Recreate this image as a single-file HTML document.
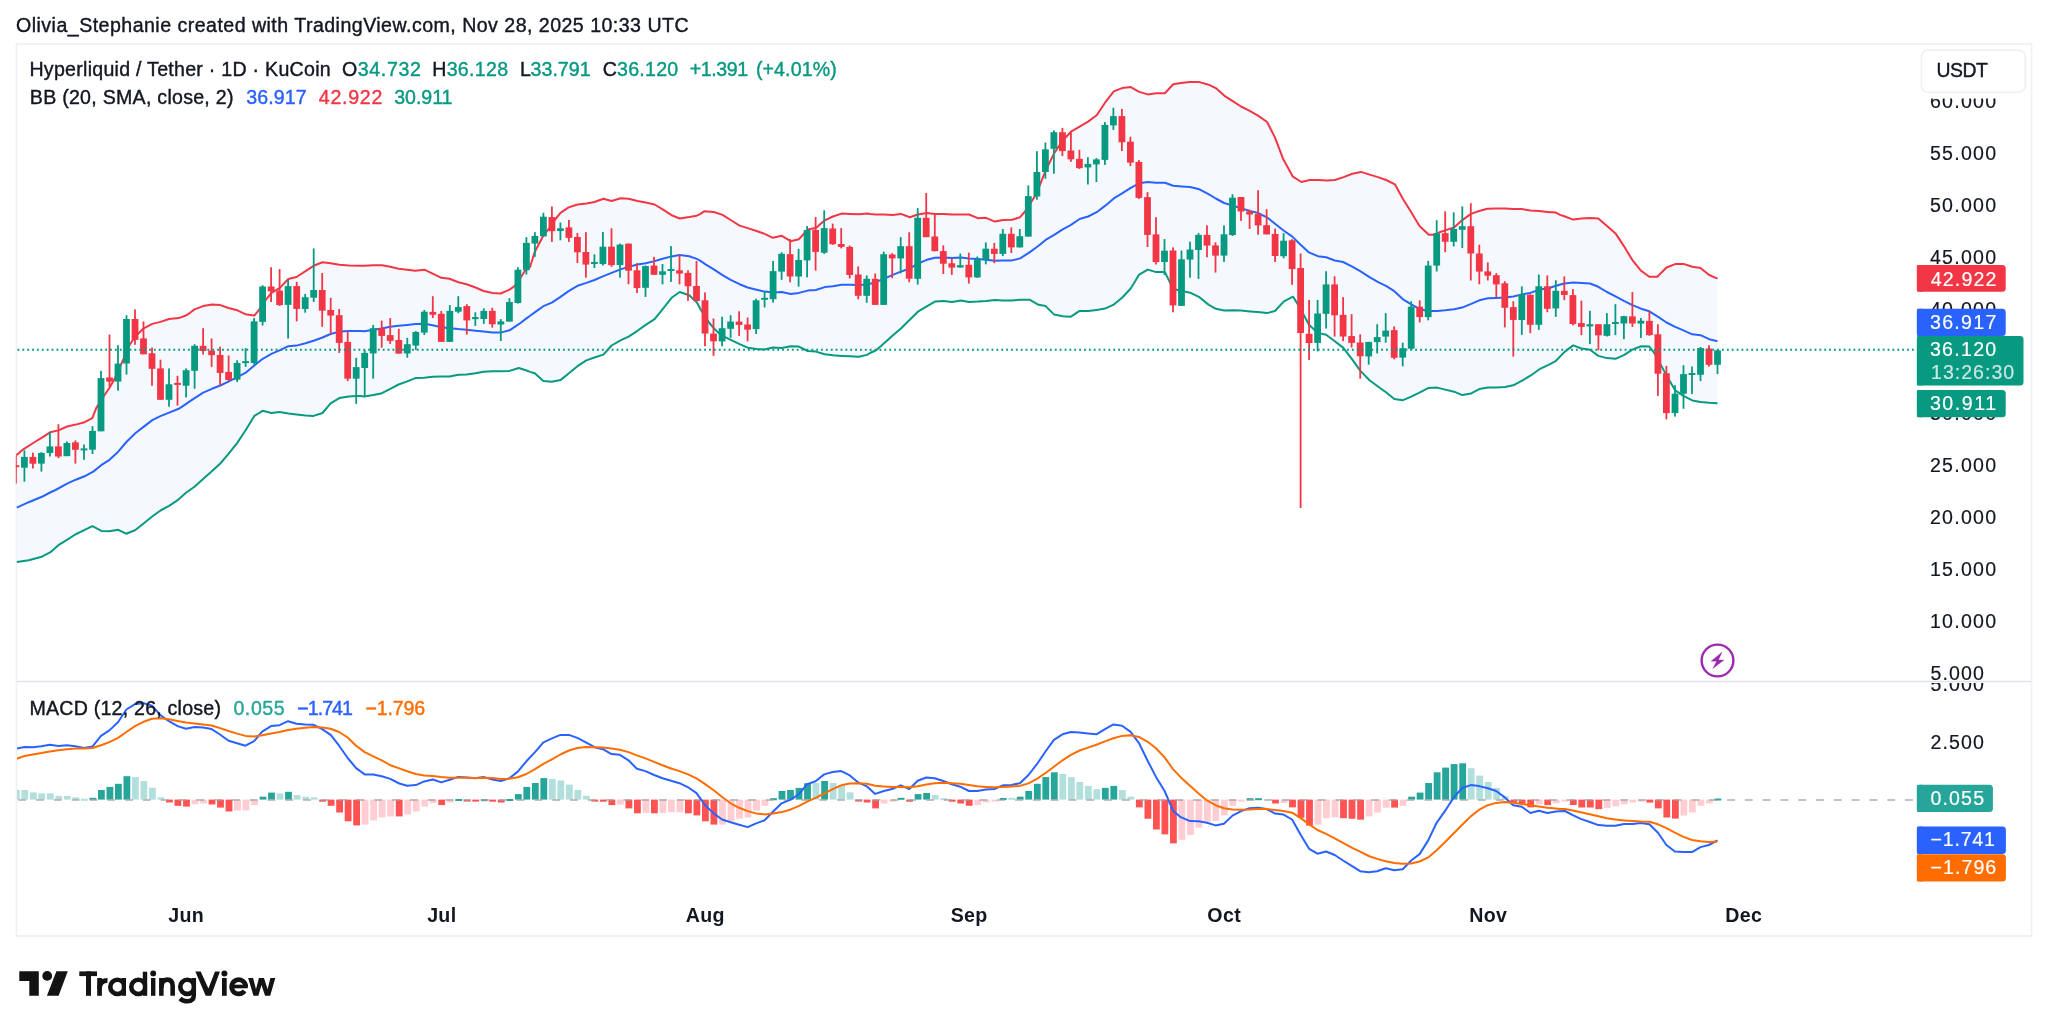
<!DOCTYPE html>
<html><head><meta charset="utf-8"><title>HYPEUSDT chart</title>
<style>html,body{margin:0;padding:0;background:#fff}body{width:2048px;height:1033px;position:relative;overflow:hidden;font-family:"Liberation Sans",sans-serif}</style>
</head><body>
<svg width="2048" height="1033" viewBox="0 0 2048 1033" style="position:absolute;left:0;top:0;will-change:transform;transform:translateZ(0)">
<defs><clipPath id="cm"><rect x="15.8" y="45" width="1900.2" height="636"/></clipPath><clipPath id="cd"><rect x="17" y="683" width="1899" height="210"/></clipPath><clipPath id="cs1"><rect x="1916" y="98" width="115" height="583"/></clipPath><clipPath id="cs2"><rect x="1916" y="683" width="115" height="210"/></clipPath><clipPath id="la"><rect x="100" y="970" width="26" height="40"/></clipPath><clipPath id="ld"><rect x="120" y="970" width="27.2" height="40"/></clipPath><clipPath id="lg"><rect x="170" y="970" width="26.05" height="40"/></clipPath></defs>
<rect x="16.5" y="44" width="2015" height="892" fill="#fff" stroke="#f0f1f3" stroke-width="1.8"/>
<line x1="17" y1="681.5" x2="2031" y2="681.5" stroke="#e0e3eb" stroke-width="1.6"/>
<g clip-path="url(#cm)">
<polygon points="16.4,455.2 23.6,449.1 33.2,443.0 41.9,437.7 50.1,432.3 58.4,430.4 67.1,426.5 75.8,424.6 84.5,422.2 92.3,418.2 96.2,408.1 101.2,400.4 104.9,394.5 109.5,387.8 114.5,379.1 122.3,361.6 130.0,344.2 135.3,336.5 143.2,328.7 152.3,323.9 160.4,321.9 169.1,319.0 178.7,318.1 186.5,315.2 190.1,312.8 194.5,309.4 203.2,306.1 211.9,304.5 220.3,305.1 228.4,308.0 237.3,310.3 245.4,314.2 254.3,315.6 259.4,309.4 265.2,300.7 271.4,292.9 279.5,288.1 288.4,279.0 296.6,277.0 305.5,271.2 313.6,265.8 322.5,262.3 330.6,263.3 339.3,264.8 348.8,265.6 360.1,265.8 364.5,265.8 373.2,265.2 381.9,265.2 390.3,266.8 398.6,268.7 407.3,269.7 415.4,270.7 424.3,269.7 432.7,273.6 441.4,277.8 449.5,278.8 458.4,282.3 466.6,284.2 475.5,287.5 483.6,291.0 492.5,292.9 500.6,293.5 509.5,289.6 514.6,286.1 520.2,278.2 525.8,269.5 530.1,266.8 534.7,252.0 543.4,235.5 549.0,228.7 553.9,221.0 560.5,212.8 568.6,207.4 577.5,204.5 586.4,203.6 594.5,202.0 603.4,198.7 611.6,201.0 620.5,198.3 628.6,198.7 637.5,201.0 645.7,202.6 654.6,204.5 662.7,209.4 671.6,215.2 679.7,218.5 689.2,217.1 696.8,215.7 700.1,214.2 704.5,211.2 713.8,212.0 722.5,214.9 730.7,220.0 739.6,225.6 747.7,228.1 756.6,231.0 764.7,233.9 772.9,237.8 781.8,235.8 790.7,241.2 798.8,239.3 807.7,229.6 815.8,228.1 824.8,220.3 832.9,216.5 841.6,213.6 849.9,213.9 859.4,214.2 867.0,213.4 870.1,214.1 875.7,214.5 883.8,214.5 892.7,215.1 900.9,213.9 909.8,217.2 917.9,214.5 926.8,212.9 934.9,213.9 943.8,213.9 952.0,214.5 960.9,214.5 969.0,214.5 977.9,218.2 986.0,217.8 994.9,221.6 1003.1,220.1 1012.0,219.7 1020.1,217.2 1024.6,212.0 1029.5,204.8 1036.4,193.8 1045.6,170.7 1054.2,153.1 1062.7,140.5 1071.0,131.7 1079.6,126.6 1088.1,121.6 1096.7,115.3 1105.0,102.7 1113.8,91.4 1122.1,88.1 1130.7,87.1 1139.2,91.9 1147.8,94.4 1156.1,93.2 1164.9,93.2 1173.2,84.3 1180.9,83.1 1189.9,81.9 1198.6,81.9 1208.6,84.7 1215.8,88.1 1224.5,95.8 1232.7,101.2 1241.0,106.5 1249.7,110.9 1258.0,115.6 1267.1,122.0 1274.9,137.4 1283.2,159.1 1292.9,176.7 1301.4,182.0 1309.7,180.0 1318.4,180.0 1326.6,180.4 1334.9,180.0 1343.6,177.1 1352.3,173.8 1361.0,171.9 1369.7,174.6 1377.9,177.1 1386.2,180.0 1394.9,184.3 1402.7,198.4 1411.4,212.6 1419.5,226.1 1428.8,234.8 1433.6,234.8 1439.4,232.3 1445.2,230.4 1454.0,227.5 1462.3,220.1 1471.0,213.9 1479.1,211.0 1487.3,208.7 1495.6,208.5 1505.3,208.5 1513.0,209.1 1521.7,209.1 1530.4,210.6 1539.1,211.1 1547.6,211.9 1555.8,212.6 1560.1,214.9 1564.3,216.3 1573.2,219.6 1581.4,218.5 1590.1,218.0 1598.3,218.5 1607.0,226.1 1615.5,233.4 1623.9,246.1 1632.4,260.1 1641.1,270.8 1649.3,276.8 1657.3,276.8 1666.5,267.5 1675.2,264.1 1683.4,263.9 1692.3,266.8 1700.5,267.9 1709.2,275.0 1717.5,278.6 1717.5,403.3 1709.2,402.8 1700.5,401.9 1692.3,400.4 1683.4,395.9 1675.2,390.4 1668.0,378.1 1661.3,365.9 1654.7,353.6 1649.3,346.5 1641.1,346.3 1632.4,349.6 1623.9,355.2 1615.5,358.8 1607.0,358.1 1598.3,355.9 1590.1,349.8 1581.4,348.5 1573.2,345.4 1564.3,352.1 1556.0,360.8 1548.6,364.8 1539.5,369.2 1530.4,375.7 1522.1,380.6 1513.3,385.3 1505.0,387.0 1496.3,387.4 1488.0,387.6 1479.3,389.1 1471.2,393.4 1462.2,395.1 1454.1,391.7 1445.2,389.6 1437.1,387.6 1428.1,388.1 1420.0,392.3 1411.3,396.6 1403.0,400.2 1394.3,399.1 1386.0,392.3 1378.6,387.0 1369.5,380.2 1360.2,370.6 1351.8,358.9 1343.1,347.6 1334.8,341.2 1326.1,334.8 1317.8,332.9 1309.0,324.8 1304.4,316.3 1298.0,304.6 1293.1,296.7 1283.9,301.4 1275.0,311.0 1266.9,313.1 1257.9,312.0 1249.8,311.4 1241.1,310.6 1232.8,310.3 1224.1,310.6 1215.8,308.8 1208.5,304.6 1199.4,297.2 1190.1,292.7 1181.8,291.0 1173.2,289.0 1164.9,272.1 1156.1,272.1 1147.8,269.6 1139.2,274.6 1130.7,288.5 1122.1,297.8 1113.8,304.6 1105.0,308.6 1096.7,309.9 1088.1,311.1 1079.6,310.9 1071.0,316.7 1062.7,316.2 1054.2,314.6 1045.6,306.1 1038.6,304.8 1029.5,299.7 1020.1,299.7 1012.0,300.4 1003.1,300.6 994.9,300.0 986.0,301.0 977.9,301.6 969.0,302.0 960.9,300.4 952.0,302.0 943.8,301.0 934.9,301.6 926.8,306.4 917.9,311.7 909.8,319.8 900.9,328.5 892.7,335.5 883.8,343.6 876.5,350.0 870.1,353.0 867.0,354.9 858.8,356.8 849.9,356.3 841.6,355.9 832.9,355.3 824.8,354.3 815.8,351.6 807.7,351.0 798.8,346.6 790.7,346.2 781.8,348.1 772.9,347.5 764.7,349.5 756.6,349.1 747.7,347.7 739.6,344.2 730.7,339.8 722.5,335.9 719.0,333.2 713.8,328.2 709.4,323.0 705.5,317.1 700.8,309.7 696.8,302.2 689.2,295.2 679.7,292.0 671.6,297.8 662.7,309.1 654.6,319.1 645.7,324.9 637.5,330.8 628.6,336.6 620.5,340.4 611.6,345.5 603.4,354.6 594.5,357.5 586.4,360.4 577.5,366.2 568.6,373.5 560.5,380.1 551.8,381.7 543.4,381.1 534.7,373.3 530.1,371.9 526.5,370.5 518.8,368.0 509.5,370.9 500.6,371.3 492.5,371.3 483.6,371.7 475.5,373.3 466.6,374.6 458.4,374.8 449.5,376.6 441.4,376.6 432.7,376.8 424.3,377.7 415.4,378.1 407.3,381.4 398.6,384.5 390.3,388.8 381.9,393.2 373.4,395.0 364.5,396.5 360.1,396.1 356.4,396.1 348.8,396.5 339.3,398.1 330.6,403.3 322.5,413.0 313.6,415.9 305.5,415.5 296.6,414.5 288.4,413.5 279.5,412.0 271.4,413.0 262.6,410.8 254.3,415.9 245.6,430.3 237.1,443.1 228.5,453.9 220.3,463.5 211.3,471.8 203.1,478.9 194.5,486.8 186.3,492.5 177.3,500.4 169.1,505.8 160.5,510.5 152.2,516.5 143.3,523.7 135.0,530.2 126.1,533.7 118.2,529.8 109.2,531.2 101.4,530.9 92.4,526.2 84.2,530.2 75.2,534.5 67.0,539.8 58.4,545.2 50.1,552.4 41.9,556.7 28.7,560.2 16.8,562.0" fill="#f5f9fe"/>
<polyline points="16.8,507.6 28.7,502.2 41.9,496.8 50.1,492.5 55.5,490.0 67.1,483.6 75.8,479.7 84.5,476.3 93.3,471.6 101.2,465.2 109.5,459.8 118.2,451.7 126.4,442.0 135.3,433.3 143.2,427.1 152.3,420.1 160.4,416.2 169.1,412.6 178.7,408.8 186.2,403.8 190.8,400.7 203.2,392.6 211.9,388.8 220.3,385.5 228.4,381.6 237.3,377.1 245.4,372.9 254.3,365.5 262.7,358.8 271.4,353.9 279.5,350.4 288.4,346.2 296.6,345.6 305.5,343.3 313.6,340.7 322.5,337.5 330.6,334.0 339.3,331.6 348.8,331.1 360.1,331.1 364.5,331.3 373.4,329.7 381.6,328.4 390.3,326.8 398.6,325.8 407.3,324.9 415.4,323.9 424.3,323.7 432.7,325.3 441.4,327.2 449.5,328.2 458.4,329.1 466.6,329.7 475.5,330.7 483.6,331.6 492.5,332.6 500.6,332.6 509.5,330.3 518.8,324.2 526.5,318.4 530.1,315.8 534.7,312.4 543.4,306.2 551.8,302.7 560.5,296.9 568.6,291.1 577.5,285.8 586.4,282.9 594.5,280.0 603.4,276.2 611.6,272.9 620.5,269.4 628.6,266.9 637.5,264.5 645.7,263.2 654.6,261.1 662.7,258.7 671.6,256.4 679.7,254.9 689.2,256.2 696.8,258.9 700.1,260.7 705.5,264.3 713.8,269.3 722.5,275.1 730.7,279.8 739.6,284.2 747.7,287.5 756.6,289.7 764.7,291.6 773.6,292.6 781.8,292.0 790.7,293.9 798.8,292.9 807.7,290.6 815.8,290.0 824.8,287.1 832.9,286.2 841.6,284.8 849.9,284.8 859.4,284.9 867.0,284.6 875.7,282.2 883.8,278.8 892.7,274.9 900.9,271.6 909.8,268.5 917.9,263.6 926.8,259.8 934.9,257.8 943.8,257.5 952.0,258.0 960.9,257.5 969.0,258.4 977.9,259.0 986.0,259.8 994.9,260.7 1003.1,260.4 1012.0,260.4 1020.1,258.4 1029.5,252.4 1038.6,245.8 1045.6,239.9 1054.2,234.9 1062.7,229.3 1071.0,224.8 1079.6,219.0 1088.1,216.5 1096.7,212.2 1105.0,205.9 1113.8,198.4 1122.1,193.3 1130.7,187.8 1139.2,183.3 1147.8,182.0 1156.1,182.8 1164.9,182.8 1173.2,185.8 1181.8,186.5 1190.1,187.0 1199.4,189.3 1208.5,194.2 1215.8,198.5 1224.1,203.0 1232.8,205.6 1241.1,208.3 1249.8,210.9 1257.9,213.0 1266.9,217.3 1275.0,223.7 1283.9,230.7 1292.0,236.4 1300.9,245.0 1309.0,252.4 1317.8,256.2 1326.1,257.3 1334.8,260.5 1343.1,262.0 1351.8,266.3 1360.2,271.2 1369.5,277.1 1378.6,282.4 1386.0,285.8 1394.3,291.2 1403.0,299.3 1411.3,304.4 1420.0,309.3 1428.1,311.0 1437.1,311.0 1445.2,310.3 1454.1,309.3 1462.2,307.6 1471.2,303.9 1479.3,300.3 1488.0,298.2 1496.3,298.0 1505.0,297.6 1513.3,296.5 1522.1,294.4 1530.4,292.9 1539.5,289.6 1548.6,288.2 1556.0,285.7 1564.3,283.5 1573.2,282.4 1581.4,283.0 1590.1,283.5 1598.3,286.8 1607.0,292.0 1615.5,296.4 1623.9,300.9 1632.4,305.1 1641.1,308.7 1649.3,311.3 1658.2,316.9 1666.5,322.5 1675.2,326.9 1683.4,330.3 1692.3,334.3 1700.5,335.2 1709.2,339.2 1717.5,341.2" fill="none" stroke="#2962ff" stroke-width="2" stroke-linejoin="round"/>
<polyline points="16.4,455.2 23.6,449.1 33.2,443.0 41.9,437.7 50.1,432.3 58.4,430.4 67.1,426.5 75.8,424.6 84.5,422.2 92.3,418.2 96.2,408.1 101.2,400.4 104.9,394.5 109.5,387.8 114.5,379.1 122.3,361.6 130.0,344.2 135.3,336.5 143.2,328.7 152.3,323.9 160.4,321.9 169.1,319.0 178.7,318.1 186.5,315.2 190.1,312.8 194.5,309.4 203.2,306.1 211.9,304.5 220.3,305.1 228.4,308.0 237.3,310.3 245.4,314.2 254.3,315.6 259.4,309.4 265.2,300.7 271.4,292.9 279.5,288.1 288.4,279.0 296.6,277.0 305.5,271.2 313.6,265.8 322.5,262.3 330.6,263.3 339.3,264.8 348.8,265.6 360.1,265.8 364.5,265.8 373.2,265.2 381.9,265.2 390.3,266.8 398.6,268.7 407.3,269.7 415.4,270.7 424.3,269.7 432.7,273.6 441.4,277.8 449.5,278.8 458.4,282.3 466.6,284.2 475.5,287.5 483.6,291.0 492.5,292.9 500.6,293.5 509.5,289.6 514.6,286.1 520.2,278.2 525.8,269.5 530.1,266.8 534.7,252.0 543.4,235.5 549.0,228.7 553.9,221.0 560.5,212.8 568.6,207.4 577.5,204.5 586.4,203.6 594.5,202.0 603.4,198.7 611.6,201.0 620.5,198.3 628.6,198.7 637.5,201.0 645.7,202.6 654.6,204.5 662.7,209.4 671.6,215.2 679.7,218.5 689.2,217.1 696.8,215.7 700.1,214.2 704.5,211.2 713.8,212.0 722.5,214.9 730.7,220.0 739.6,225.6 747.7,228.1 756.6,231.0 764.7,233.9 772.9,237.8 781.8,235.8 790.7,241.2 798.8,239.3 807.7,229.6 815.8,228.1 824.8,220.3 832.9,216.5 841.6,213.6 849.9,213.9 859.4,214.2 867.0,213.4 870.1,214.1 875.7,214.5 883.8,214.5 892.7,215.1 900.9,213.9 909.8,217.2 917.9,214.5 926.8,212.9 934.9,213.9 943.8,213.9 952.0,214.5 960.9,214.5 969.0,214.5 977.9,218.2 986.0,217.8 994.9,221.6 1003.1,220.1 1012.0,219.7 1020.1,217.2 1024.6,212.0 1029.5,204.8 1036.4,193.8 1045.6,170.7 1054.2,153.1 1062.7,140.5 1071.0,131.7 1079.6,126.6 1088.1,121.6 1096.7,115.3 1105.0,102.7 1113.8,91.4 1122.1,88.1 1130.7,87.1 1139.2,91.9 1147.8,94.4 1156.1,93.2 1164.9,93.2 1173.2,84.3 1180.9,83.1 1189.9,81.9 1198.6,81.9 1208.6,84.7 1215.8,88.1 1224.5,95.8 1232.7,101.2 1241.0,106.5 1249.7,110.9 1258.0,115.6 1267.1,122.0 1274.9,137.4 1283.2,159.1 1292.9,176.7 1301.4,182.0 1309.7,180.0 1318.4,180.0 1326.6,180.4 1334.9,180.0 1343.6,177.1 1352.3,173.8 1361.0,171.9 1369.7,174.6 1377.9,177.1 1386.2,180.0 1394.9,184.3 1402.7,198.4 1411.4,212.6 1419.5,226.1 1428.8,234.8 1433.6,234.8 1439.4,232.3 1445.2,230.4 1454.0,227.5 1462.3,220.1 1471.0,213.9 1479.1,211.0 1487.3,208.7 1495.6,208.5 1505.3,208.5 1513.0,209.1 1521.7,209.1 1530.4,210.6 1539.1,211.1 1547.6,211.9 1555.8,212.6 1560.1,214.9 1564.3,216.3 1573.2,219.6 1581.4,218.5 1590.1,218.0 1598.3,218.5 1607.0,226.1 1615.5,233.4 1623.9,246.1 1632.4,260.1 1641.1,270.8 1649.3,276.8 1657.3,276.8 1666.5,267.5 1675.2,264.1 1683.4,263.9 1692.3,266.8 1700.5,267.9 1709.2,275.0 1717.5,278.6" fill="none" stroke="#f23645" stroke-width="2" stroke-linejoin="round"/>
<polyline points="16.8,562.0 28.7,560.2 41.9,556.7 50.1,552.4 58.4,545.2 67.0,539.8 75.2,534.5 84.2,530.2 92.4,526.2 101.4,530.9 109.2,531.2 118.2,529.8 126.1,533.7 135.0,530.2 143.3,523.7 152.2,516.5 160.5,510.5 169.1,505.8 177.3,500.4 186.3,492.5 194.5,486.8 203.1,478.9 211.3,471.8 220.3,463.5 228.5,453.9 237.1,443.1 245.6,430.3 254.3,415.9 262.6,410.8 271.4,413.0 279.5,412.0 288.4,413.5 296.6,414.5 305.5,415.5 313.6,415.9 322.5,413.0 330.6,403.3 339.3,398.1 348.8,396.5 356.4,396.1 360.1,396.1 364.5,396.5 373.4,395.0 381.9,393.2 390.3,388.8 398.6,384.5 407.3,381.4 415.4,378.1 424.3,377.7 432.7,376.8 441.4,376.6 449.5,376.6 458.4,374.8 466.6,374.6 475.5,373.3 483.6,371.7 492.5,371.3 500.6,371.3 509.5,370.9 518.8,368.0 526.5,370.5 530.1,371.9 534.7,373.3 543.4,381.1 551.8,381.7 560.5,380.1 568.6,373.5 577.5,366.2 586.4,360.4 594.5,357.5 603.4,354.6 611.6,345.5 620.5,340.4 628.6,336.6 637.5,330.8 645.7,324.9 654.6,319.1 662.7,309.1 671.6,297.8 679.7,292.0 689.2,295.2 696.8,302.2 700.8,309.7 705.5,317.1 709.4,323.0 713.8,328.2 719.0,333.2 722.5,335.9 730.7,339.8 739.6,344.2 747.7,347.7 756.6,349.1 764.7,349.5 772.9,347.5 781.8,348.1 790.7,346.2 798.8,346.6 807.7,351.0 815.8,351.6 824.8,354.3 832.9,355.3 841.6,355.9 849.9,356.3 858.8,356.8 867.0,354.9 870.1,353.0 876.5,350.0 883.8,343.6 892.7,335.5 900.9,328.5 909.8,319.8 917.9,311.7 926.8,306.4 934.9,301.6 943.8,301.0 952.0,302.0 960.9,300.4 969.0,302.0 977.9,301.6 986.0,301.0 994.9,300.0 1003.1,300.6 1012.0,300.4 1020.1,299.7 1029.5,299.7 1038.6,304.8 1045.6,306.1 1054.2,314.6 1062.7,316.2 1071.0,316.7 1079.6,310.9 1088.1,311.1 1096.7,309.9 1105.0,308.6 1113.8,304.6 1122.1,297.8 1130.7,288.5 1139.2,274.6 1147.8,269.6 1156.1,272.1 1164.9,272.1 1173.2,289.0 1181.8,291.0 1190.1,292.7 1199.4,297.2 1208.5,304.6 1215.8,308.8 1224.1,310.6 1232.8,310.3 1241.1,310.6 1249.8,311.4 1257.9,312.0 1266.9,313.1 1275.0,311.0 1283.9,301.4 1293.1,296.7 1298.0,304.6 1304.4,316.3 1309.0,324.8 1317.8,332.9 1326.1,334.8 1334.8,341.2 1343.1,347.6 1351.8,358.9 1360.2,370.6 1369.5,380.2 1378.6,387.0 1386.0,392.3 1394.3,399.1 1403.0,400.2 1411.3,396.6 1420.0,392.3 1428.1,388.1 1437.1,387.6 1445.2,389.6 1454.1,391.7 1462.2,395.1 1471.2,393.4 1479.3,389.1 1488.0,387.6 1496.3,387.4 1505.0,387.0 1513.3,385.3 1522.1,380.6 1530.4,375.7 1539.5,369.2 1548.6,364.8 1556.0,360.8 1564.3,352.1 1573.2,345.4 1581.4,348.5 1590.1,349.8 1598.3,355.9 1607.0,358.1 1615.5,358.8 1623.9,355.2 1632.4,349.6 1641.1,346.3 1649.3,346.5 1654.7,353.6 1661.3,365.9 1668.0,378.1 1675.2,390.4 1683.4,395.9 1692.3,400.4 1700.5,401.9 1709.2,402.8 1717.5,403.3" fill="none" stroke="#089981" stroke-width="2" stroke-linejoin="round"/>
<rect x="15.0" y="455.5" width="1.8" height="28.1" fill="#f23645"/>
<rect x="12.5" y="465.2" width="6.8" height="2.0" fill="#f23645"/>
<rect x="23.5" y="450.3" width="1.8" height="31.4" fill="#089981"/>
<rect x="21.0" y="456.9" width="6.8" height="10.8" fill="#089981"/>
<rect x="32.0" y="452.6" width="1.8" height="15.9" fill="#f23645"/>
<rect x="29.5" y="456.9" width="6.8" height="6.8" fill="#f23645"/>
<rect x="40.5" y="452.2" width="1.8" height="19.4" fill="#089981"/>
<rect x="38.0" y="453.0" width="6.8" height="10.6" fill="#089981"/>
<rect x="49.0" y="431.9" width="1.8" height="24.6" fill="#089981"/>
<rect x="46.5" y="446.4" width="6.8" height="6.6" fill="#089981"/>
<rect x="57.5" y="424.2" width="1.8" height="33.9" fill="#f23645"/>
<rect x="55.0" y="446.4" width="6.8" height="10.1" fill="#f23645"/>
<rect x="66.0" y="441.4" width="1.8" height="14.7" fill="#089981"/>
<rect x="63.5" y="443.0" width="6.8" height="13.2" fill="#089981"/>
<rect x="74.5" y="440.4" width="1.8" height="23.2" fill="#f23645"/>
<rect x="72.0" y="442.4" width="6.8" height="7.4" fill="#f23645"/>
<rect x="83.1" y="444.5" width="1.8" height="15.3" fill="#089981"/>
<rect x="80.6" y="448.4" width="6.8" height="2.0" fill="#089981"/>
<rect x="91.6" y="426.1" width="1.8" height="27.9" fill="#089981"/>
<rect x="89.1" y="430.9" width="6.8" height="18.8" fill="#089981"/>
<rect x="100.1" y="370.9" width="1.8" height="60.4" fill="#089981"/>
<rect x="97.6" y="378.1" width="6.8" height="53.2" fill="#089981"/>
<rect x="108.6" y="334.5" width="1.8" height="52.3" fill="#f23645"/>
<rect x="106.1" y="377.5" width="6.8" height="4.1" fill="#f23645"/>
<rect x="117.1" y="345.2" width="1.8" height="45.5" fill="#089981"/>
<rect x="114.6" y="363.6" width="6.8" height="18.0" fill="#089981"/>
<rect x="125.6" y="315.2" width="1.8" height="59.4" fill="#089981"/>
<rect x="123.1" y="319.0" width="6.8" height="44.5" fill="#089981"/>
<rect x="134.1" y="309.4" width="1.8" height="35.4" fill="#f23645"/>
<rect x="131.6" y="319.0" width="6.8" height="20.9" fill="#f23645"/>
<rect x="142.6" y="321.4" width="1.8" height="32.9" fill="#f23645"/>
<rect x="140.1" y="338.4" width="6.8" height="15.9" fill="#f23645"/>
<rect x="151.1" y="347.5" width="1.8" height="38.3" fill="#f23645"/>
<rect x="148.6" y="353.3" width="6.8" height="15.5" fill="#f23645"/>
<rect x="159.6" y="359.7" width="1.8" height="40.1" fill="#f23645"/>
<rect x="157.1" y="368.4" width="6.8" height="31.4" fill="#f23645"/>
<rect x="168.1" y="368.4" width="1.8" height="38.3" fill="#089981"/>
<rect x="165.6" y="384.3" width="6.8" height="15.5" fill="#089981"/>
<rect x="176.6" y="375.8" width="1.8" height="29.8" fill="#f23645"/>
<rect x="174.1" y="382.9" width="6.8" height="2.0" fill="#f23645"/>
<rect x="185.2" y="368.4" width="1.8" height="29.0" fill="#089981"/>
<rect x="182.7" y="370.2" width="6.8" height="15.5" fill="#089981"/>
<rect x="193.7" y="344.2" width="1.8" height="44.5" fill="#089981"/>
<rect x="191.2" y="345.8" width="6.8" height="25.0" fill="#089981"/>
<rect x="202.2" y="328.2" width="1.8" height="26.3" fill="#f23645"/>
<rect x="199.7" y="345.8" width="6.8" height="5.2" fill="#f23645"/>
<rect x="210.7" y="338.4" width="1.8" height="28.5" fill="#f23645"/>
<rect x="208.2" y="350.6" width="6.8" height="4.6" fill="#f23645"/>
<rect x="219.2" y="346.7" width="1.8" height="39.1" fill="#f23645"/>
<rect x="216.7" y="354.9" width="6.8" height="18.0" fill="#f23645"/>
<rect x="227.7" y="355.5" width="1.8" height="25.6" fill="#f23645"/>
<rect x="225.2" y="371.9" width="6.8" height="8.1" fill="#f23645"/>
<rect x="236.2" y="360.3" width="1.8" height="21.7" fill="#089981"/>
<rect x="233.7" y="363.0" width="6.8" height="16.7" fill="#089981"/>
<rect x="244.7" y="348.1" width="1.8" height="18.8" fill="#089981"/>
<rect x="242.2" y="361.1" width="6.8" height="2.0" fill="#089981"/>
<rect x="253.2" y="318.1" width="1.8" height="46.5" fill="#089981"/>
<rect x="250.7" y="321.4" width="6.8" height="41.6" fill="#089981"/>
<rect x="261.7" y="285.2" width="1.8" height="40.3" fill="#089981"/>
<rect x="259.2" y="286.5" width="6.8" height="35.4" fill="#089981"/>
<rect x="270.2" y="267.2" width="1.8" height="34.8" fill="#f23645"/>
<rect x="267.7" y="286.5" width="6.8" height="4.8" fill="#f23645"/>
<rect x="278.7" y="269.1" width="1.8" height="36.8" fill="#f23645"/>
<rect x="276.2" y="290.6" width="6.8" height="14.5" fill="#f23645"/>
<rect x="287.2" y="280.0" width="1.8" height="58.5" fill="#089981"/>
<rect x="284.7" y="286.1" width="6.8" height="18.8" fill="#089981"/>
<rect x="295.8" y="281.9" width="1.8" height="39.5" fill="#f23645"/>
<rect x="293.3" y="286.1" width="6.8" height="22.8" fill="#f23645"/>
<rect x="304.3" y="293.9" width="1.8" height="18.8" fill="#089981"/>
<rect x="301.8" y="297.2" width="6.8" height="11.8" fill="#089981"/>
<rect x="312.8" y="248.4" width="1.8" height="53.6" fill="#089981"/>
<rect x="310.3" y="290.0" width="6.8" height="7.7" fill="#089981"/>
<rect x="321.3" y="273.0" width="1.8" height="53.8" fill="#f23645"/>
<rect x="318.8" y="290.0" width="6.8" height="20.7" fill="#f23645"/>
<rect x="329.8" y="297.8" width="1.8" height="36.2" fill="#f23645"/>
<rect x="327.3" y="310.0" width="6.8" height="5.6" fill="#f23645"/>
<rect x="338.3" y="309.0" width="1.8" height="43.9" fill="#f23645"/>
<rect x="335.8" y="315.2" width="6.8" height="27.7" fill="#f23645"/>
<rect x="346.8" y="331.3" width="1.8" height="49.8" fill="#f23645"/>
<rect x="344.3" y="341.9" width="6.8" height="36.8" fill="#f23645"/>
<rect x="355.3" y="357.8" width="1.8" height="46.1" fill="#089981"/>
<rect x="352.8" y="367.1" width="6.8" height="11.6" fill="#089981"/>
<rect x="363.8" y="350.0" width="1.8" height="46.1" fill="#089981"/>
<rect x="361.3" y="352.9" width="6.8" height="15.1" fill="#089981"/>
<rect x="372.3" y="324.9" width="1.8" height="53.8" fill="#089981"/>
<rect x="369.8" y="328.2" width="6.8" height="25.2" fill="#089981"/>
<rect x="380.8" y="320.6" width="1.8" height="27.1" fill="#f23645"/>
<rect x="378.3" y="328.2" width="6.8" height="7.7" fill="#f23645"/>
<rect x="389.3" y="318.1" width="1.8" height="25.8" fill="#f23645"/>
<rect x="386.8" y="335.1" width="6.8" height="5.8" fill="#f23645"/>
<rect x="397.9" y="328.7" width="1.8" height="24.8" fill="#f23645"/>
<rect x="395.4" y="340.0" width="6.8" height="13.6" fill="#f23645"/>
<rect x="406.4" y="337.8" width="1.8" height="19.9" fill="#089981"/>
<rect x="403.9" y="344.2" width="6.8" height="9.3" fill="#089981"/>
<rect x="414.9" y="331.1" width="1.8" height="19.0" fill="#089981"/>
<rect x="412.4" y="332.0" width="6.8" height="13.6" fill="#089981"/>
<rect x="423.4" y="310.0" width="1.8" height="25.0" fill="#089981"/>
<rect x="420.9" y="311.7" width="6.8" height="20.9" fill="#089981"/>
<rect x="431.9" y="296.2" width="1.8" height="21.9" fill="#f23645"/>
<rect x="429.4" y="311.9" width="6.8" height="2.9" fill="#f23645"/>
<rect x="440.4" y="310.9" width="1.8" height="31.0" fill="#f23645"/>
<rect x="437.9" y="313.8" width="6.8" height="28.1" fill="#f23645"/>
<rect x="448.9" y="305.1" width="1.8" height="36.8" fill="#089981"/>
<rect x="446.4" y="310.9" width="6.8" height="31.0" fill="#089981"/>
<rect x="457.4" y="296.2" width="1.8" height="17.0" fill="#089981"/>
<rect x="454.9" y="307.1" width="6.8" height="4.6" fill="#089981"/>
<rect x="465.9" y="304.2" width="1.8" height="30.4" fill="#f23645"/>
<rect x="463.4" y="306.1" width="6.8" height="14.3" fill="#f23645"/>
<rect x="474.4" y="312.3" width="1.8" height="13.6" fill="#089981"/>
<rect x="471.9" y="317.1" width="6.8" height="2.0" fill="#089981"/>
<rect x="482.9" y="308.4" width="1.8" height="15.5" fill="#089981"/>
<rect x="480.4" y="310.9" width="6.8" height="8.1" fill="#089981"/>
<rect x="491.4" y="307.8" width="1.8" height="19.9" fill="#f23645"/>
<rect x="488.9" y="310.9" width="6.8" height="13.4" fill="#f23645"/>
<rect x="499.9" y="319.1" width="1.8" height="21.9" fill="#089981"/>
<rect x="497.4" y="321.4" width="6.8" height="3.1" fill="#089981"/>
<rect x="508.5" y="298.2" width="1.8" height="23.4" fill="#089981"/>
<rect x="506.0" y="302.0" width="6.8" height="19.6" fill="#089981"/>
<rect x="517.0" y="267.2" width="1.8" height="36.4" fill="#089981"/>
<rect x="514.5" y="269.7" width="6.8" height="33.3" fill="#089981"/>
<rect x="525.5" y="237.1" width="1.8" height="37.5" fill="#089981"/>
<rect x="523.0" y="242.8" width="6.8" height="27.4" fill="#089981"/>
<rect x="534.0" y="232.2" width="1.8" height="24.6" fill="#089981"/>
<rect x="531.5" y="235.9" width="6.8" height="7.7" fill="#089981"/>
<rect x="542.5" y="212.8" width="1.8" height="23.6" fill="#089981"/>
<rect x="540.0" y="216.7" width="6.8" height="19.7" fill="#089981"/>
<rect x="551.0" y="206.5" width="1.8" height="35.4" fill="#f23645"/>
<rect x="548.5" y="217.1" width="6.8" height="14.1" fill="#f23645"/>
<rect x="559.5" y="222.5" width="1.8" height="17.8" fill="#089981"/>
<rect x="557.0" y="228.3" width="6.8" height="2.7" fill="#089981"/>
<rect x="568.0" y="220.0" width="1.8" height="21.9" fill="#f23645"/>
<rect x="565.5" y="227.4" width="6.8" height="10.5" fill="#f23645"/>
<rect x="576.5" y="233.0" width="1.8" height="30.0" fill="#f23645"/>
<rect x="574.0" y="237.0" width="6.8" height="15.3" fill="#f23645"/>
<rect x="585.0" y="232.2" width="1.8" height="45.5" fill="#f23645"/>
<rect x="582.5" y="252.0" width="6.8" height="12.6" fill="#f23645"/>
<rect x="593.5" y="254.3" width="1.8" height="13.7" fill="#089981"/>
<rect x="591.0" y="262.0" width="6.8" height="2.0" fill="#089981"/>
<rect x="602.0" y="232.0" width="1.8" height="33.5" fill="#089981"/>
<rect x="599.5" y="246.7" width="6.8" height="17.4" fill="#089981"/>
<rect x="610.6" y="228.3" width="1.8" height="38.5" fill="#f23645"/>
<rect x="608.1" y="246.7" width="6.8" height="18.4" fill="#f23645"/>
<rect x="619.1" y="243.6" width="1.8" height="34.1" fill="#089981"/>
<rect x="616.6" y="244.6" width="6.8" height="20.5" fill="#089981"/>
<rect x="627.6" y="243.6" width="1.8" height="40.7" fill="#f23645"/>
<rect x="625.1" y="243.6" width="6.8" height="27.1" fill="#f23645"/>
<rect x="636.1" y="263.2" width="1.8" height="29.8" fill="#f23645"/>
<rect x="633.6" y="270.3" width="6.8" height="17.8" fill="#f23645"/>
<rect x="644.6" y="265.5" width="1.8" height="31.4" fill="#089981"/>
<rect x="642.1" y="266.1" width="6.8" height="21.7" fill="#089981"/>
<rect x="653.1" y="256.8" width="1.8" height="18.0" fill="#f23645"/>
<rect x="650.6" y="265.5" width="6.8" height="9.3" fill="#f23645"/>
<rect x="661.6" y="264.0" width="1.8" height="20.3" fill="#089981"/>
<rect x="659.1" y="271.3" width="6.8" height="3.5" fill="#089981"/>
<rect x="670.1" y="246.1" width="1.8" height="35.8" fill="#089981"/>
<rect x="667.6" y="269.0" width="6.8" height="2.0" fill="#089981"/>
<rect x="678.6" y="254.5" width="1.8" height="29.8" fill="#f23645"/>
<rect x="676.1" y="270.3" width="6.8" height="3.3" fill="#f23645"/>
<rect x="687.1" y="270.3" width="1.8" height="30.6" fill="#f23645"/>
<rect x="684.6" y="272.9" width="6.8" height="13.4" fill="#f23645"/>
<rect x="695.6" y="261.0" width="1.8" height="40.0" fill="#f23645"/>
<rect x="693.1" y="286.0" width="6.8" height="15.0" fill="#f23645"/>
<rect x="704.1" y="292.4" width="1.8" height="53.8" fill="#f23645"/>
<rect x="701.6" y="300.3" width="6.8" height="33.3" fill="#f23645"/>
<rect x="712.6" y="318.5" width="1.8" height="37.4" fill="#f23645"/>
<rect x="710.1" y="333.6" width="6.8" height="7.7" fill="#f23645"/>
<rect x="721.2" y="316.8" width="1.8" height="29.4" fill="#089981"/>
<rect x="718.7" y="328.2" width="6.8" height="13.2" fill="#089981"/>
<rect x="729.7" y="315.2" width="1.8" height="22.7" fill="#089981"/>
<rect x="727.2" y="321.6" width="6.8" height="7.2" fill="#089981"/>
<rect x="738.2" y="311.3" width="1.8" height="24.6" fill="#f23645"/>
<rect x="735.7" y="321.6" width="6.8" height="3.3" fill="#f23645"/>
<rect x="746.7" y="317.5" width="1.8" height="23.8" fill="#f23645"/>
<rect x="744.2" y="324.5" width="6.8" height="5.2" fill="#f23645"/>
<rect x="755.2" y="298.8" width="1.8" height="35.2" fill="#089981"/>
<rect x="752.7" y="300.3" width="6.8" height="28.8" fill="#089981"/>
<rect x="763.7" y="291.0" width="1.8" height="16.5" fill="#089981"/>
<rect x="761.2" y="297.8" width="6.8" height="2.0" fill="#089981"/>
<rect x="772.2" y="261.0" width="1.8" height="41.6" fill="#089981"/>
<rect x="769.7" y="271.1" width="6.8" height="28.1" fill="#089981"/>
<rect x="780.7" y="252.3" width="1.8" height="27.5" fill="#089981"/>
<rect x="778.2" y="253.8" width="6.8" height="17.8" fill="#089981"/>
<rect x="789.2" y="239.1" width="1.8" height="43.2" fill="#f23645"/>
<rect x="786.7" y="254.2" width="6.8" height="22.3" fill="#f23645"/>
<rect x="797.7" y="248.8" width="1.8" height="37.8" fill="#089981"/>
<rect x="795.2" y="260.0" width="6.8" height="16.5" fill="#089981"/>
<rect x="806.2" y="226.1" width="1.8" height="51.3" fill="#089981"/>
<rect x="803.7" y="230.0" width="6.8" height="30.4" fill="#089981"/>
<rect x="814.7" y="217.0" width="1.8" height="53.6" fill="#f23645"/>
<rect x="812.2" y="230.0" width="6.8" height="21.9" fill="#f23645"/>
<rect x="823.3" y="210.3" width="1.8" height="43.6" fill="#089981"/>
<rect x="820.8" y="228.1" width="6.8" height="24.6" fill="#089981"/>
<rect x="831.8" y="223.6" width="1.8" height="21.3" fill="#f23645"/>
<rect x="829.3" y="228.5" width="6.8" height="15.7" fill="#f23645"/>
<rect x="840.3" y="228.1" width="1.8" height="20.3" fill="#f23645"/>
<rect x="837.8" y="244.0" width="6.8" height="2.9" fill="#f23645"/>
<rect x="848.8" y="245.5" width="1.8" height="32.9" fill="#f23645"/>
<rect x="846.3" y="246.9" width="6.8" height="28.1" fill="#f23645"/>
<rect x="857.3" y="266.4" width="1.8" height="32.9" fill="#f23645"/>
<rect x="854.8" y="274.5" width="6.8" height="21.3" fill="#f23645"/>
<rect x="865.8" y="275.4" width="1.8" height="27.4" fill="#089981"/>
<rect x="863.3" y="278.8" width="6.8" height="17.0" fill="#089981"/>
<rect x="874.3" y="273.5" width="1.8" height="31.4" fill="#f23645"/>
<rect x="871.8" y="278.8" width="6.8" height="26.1" fill="#f23645"/>
<rect x="882.8" y="251.6" width="1.8" height="53.2" fill="#089981"/>
<rect x="880.3" y="254.2" width="6.8" height="50.7" fill="#089981"/>
<rect x="891.3" y="253.2" width="1.8" height="25.0" fill="#f23645"/>
<rect x="888.8" y="254.5" width="6.8" height="3.9" fill="#f23645"/>
<rect x="899.8" y="237.1" width="1.8" height="36.2" fill="#089981"/>
<rect x="897.3" y="246.2" width="6.8" height="12.2" fill="#089981"/>
<rect x="908.3" y="232.3" width="1.8" height="50.0" fill="#f23645"/>
<rect x="905.8" y="246.2" width="6.8" height="32.5" fill="#f23645"/>
<rect x="916.8" y="208.1" width="1.8" height="76.5" fill="#089981"/>
<rect x="914.3" y="217.8" width="6.8" height="61.0" fill="#089981"/>
<rect x="925.3" y="193.0" width="1.8" height="44.1" fill="#f23645"/>
<rect x="922.8" y="217.8" width="6.8" height="19.4" fill="#f23645"/>
<rect x="933.9" y="214.9" width="1.8" height="36.4" fill="#f23645"/>
<rect x="931.4" y="236.5" width="6.8" height="14.7" fill="#f23645"/>
<rect x="942.4" y="245.3" width="1.8" height="28.7" fill="#f23645"/>
<rect x="939.9" y="251.1" width="6.8" height="12.6" fill="#f23645"/>
<rect x="950.9" y="258.4" width="1.8" height="16.5" fill="#f23645"/>
<rect x="948.4" y="263.3" width="6.8" height="4.3" fill="#f23645"/>
<rect x="959.4" y="253.6" width="1.8" height="13.9" fill="#089981"/>
<rect x="956.9" y="265.2" width="6.8" height="2.3" fill="#089981"/>
<rect x="967.9" y="252.6" width="1.8" height="31.0" fill="#f23645"/>
<rect x="965.4" y="264.8" width="6.8" height="12.6" fill="#f23645"/>
<rect x="976.4" y="256.5" width="1.8" height="21.3" fill="#089981"/>
<rect x="973.9" y="259.0" width="6.8" height="18.4" fill="#089981"/>
<rect x="984.9" y="242.4" width="1.8" height="21.9" fill="#089981"/>
<rect x="982.4" y="248.7" width="6.8" height="10.6" fill="#089981"/>
<rect x="993.4" y="242.9" width="1.8" height="20.3" fill="#f23645"/>
<rect x="990.9" y="248.7" width="6.8" height="5.2" fill="#f23645"/>
<rect x="1001.9" y="229.0" width="1.8" height="27.1" fill="#089981"/>
<rect x="999.4" y="233.8" width="6.8" height="20.1" fill="#089981"/>
<rect x="1010.4" y="227.4" width="1.8" height="25.6" fill="#f23645"/>
<rect x="1007.9" y="233.8" width="6.8" height="13.6" fill="#f23645"/>
<rect x="1018.9" y="229.0" width="1.8" height="18.4" fill="#089981"/>
<rect x="1016.4" y="236.2" width="6.8" height="11.2" fill="#089981"/>
<rect x="1027.4" y="185.4" width="1.8" height="51.1" fill="#089981"/>
<rect x="1024.9" y="196.1" width="6.8" height="40.5" fill="#089981"/>
<rect x="1036.0" y="151.2" width="1.8" height="48.5" fill="#089981"/>
<rect x="1033.5" y="171.9" width="6.8" height="24.6" fill="#089981"/>
<rect x="1044.5" y="142.5" width="1.8" height="36.2" fill="#089981"/>
<rect x="1042.0" y="149.3" width="6.8" height="22.7" fill="#089981"/>
<rect x="1053.0" y="130.4" width="1.8" height="43.3" fill="#089981"/>
<rect x="1050.5" y="132.2" width="6.8" height="16.6" fill="#089981"/>
<rect x="1061.5" y="127.9" width="1.8" height="28.2" fill="#f23645"/>
<rect x="1059.0" y="132.2" width="6.8" height="18.9" fill="#f23645"/>
<rect x="1070.0" y="132.4" width="1.8" height="29.4" fill="#f23645"/>
<rect x="1067.5" y="150.5" width="6.8" height="8.8" fill="#f23645"/>
<rect x="1078.5" y="149.8" width="1.8" height="19.1" fill="#f23645"/>
<rect x="1076.0" y="158.8" width="6.8" height="9.3" fill="#f23645"/>
<rect x="1087.0" y="157.3" width="1.8" height="27.2" fill="#089981"/>
<rect x="1084.5" y="163.9" width="6.8" height="3.5" fill="#089981"/>
<rect x="1095.5" y="158.1" width="1.8" height="23.9" fill="#089981"/>
<rect x="1093.0" y="159.4" width="6.8" height="5.0" fill="#089981"/>
<rect x="1104.0" y="122.1" width="1.8" height="42.8" fill="#089981"/>
<rect x="1101.5" y="124.9" width="6.8" height="35.0" fill="#089981"/>
<rect x="1112.5" y="107.8" width="1.8" height="22.1" fill="#089981"/>
<rect x="1110.0" y="116.1" width="6.8" height="9.3" fill="#089981"/>
<rect x="1121.0" y="109.0" width="1.8" height="42.0" fill="#f23645"/>
<rect x="1118.5" y="116.1" width="6.8" height="26.2" fill="#f23645"/>
<rect x="1129.5" y="136.7" width="1.8" height="29.4" fill="#f23645"/>
<rect x="1127.0" y="141.7" width="6.8" height="20.9" fill="#f23645"/>
<rect x="1138.0" y="160.1" width="1.8" height="38.8" fill="#f23645"/>
<rect x="1135.5" y="161.9" width="6.8" height="36.0" fill="#f23645"/>
<rect x="1146.6" y="192.1" width="1.8" height="54.9" fill="#f23645"/>
<rect x="1144.1" y="197.1" width="6.8" height="37.8" fill="#f23645"/>
<rect x="1155.1" y="217.2" width="1.8" height="47.3" fill="#f23645"/>
<rect x="1152.6" y="234.4" width="6.8" height="27.7" fill="#f23645"/>
<rect x="1163.6" y="239.1" width="1.8" height="36.0" fill="#089981"/>
<rect x="1161.1" y="250.7" width="6.8" height="11.3" fill="#089981"/>
<rect x="1172.1" y="247.4" width="1.8" height="64.9" fill="#f23645"/>
<rect x="1169.6" y="250.5" width="6.8" height="54.9" fill="#f23645"/>
<rect x="1180.6" y="250.5" width="1.8" height="55.4" fill="#089981"/>
<rect x="1178.1" y="259.3" width="6.8" height="46.6" fill="#089981"/>
<rect x="1189.1" y="241.7" width="1.8" height="36.0" fill="#089981"/>
<rect x="1186.6" y="249.5" width="6.8" height="10.1" fill="#089981"/>
<rect x="1197.6" y="233.1" width="1.8" height="45.8" fill="#089981"/>
<rect x="1195.1" y="234.9" width="6.8" height="15.1" fill="#089981"/>
<rect x="1206.1" y="225.3" width="1.8" height="32.0" fill="#f23645"/>
<rect x="1203.6" y="234.9" width="6.8" height="10.7" fill="#f23645"/>
<rect x="1214.6" y="242.4" width="1.8" height="30.2" fill="#f23645"/>
<rect x="1212.1" y="245.4" width="6.8" height="10.2" fill="#f23645"/>
<rect x="1223.1" y="225.4" width="1.8" height="36.6" fill="#089981"/>
<rect x="1220.6" y="234.3" width="6.8" height="21.3" fill="#089981"/>
<rect x="1231.6" y="194.3" width="1.8" height="41.7" fill="#089981"/>
<rect x="1229.1" y="197.7" width="6.8" height="37.3" fill="#089981"/>
<rect x="1240.1" y="197.0" width="1.8" height="23.9" fill="#f23645"/>
<rect x="1237.6" y="197.0" width="6.8" height="14.5" fill="#f23645"/>
<rect x="1248.7" y="209.8" width="1.8" height="19.2" fill="#f23645"/>
<rect x="1246.2" y="211.3" width="6.8" height="3.2" fill="#f23645"/>
<rect x="1257.2" y="190.2" width="1.8" height="44.5" fill="#f23645"/>
<rect x="1254.7" y="214.1" width="6.8" height="11.3" fill="#f23645"/>
<rect x="1265.7" y="209.2" width="1.8" height="25.1" fill="#f23645"/>
<rect x="1263.2" y="225.2" width="6.8" height="9.2" fill="#f23645"/>
<rect x="1274.2" y="228.6" width="1.8" height="33.4" fill="#f23645"/>
<rect x="1271.7" y="233.9" width="6.8" height="22.1" fill="#f23645"/>
<rect x="1282.7" y="233.2" width="1.8" height="25.1" fill="#089981"/>
<rect x="1280.2" y="240.7" width="6.8" height="15.5" fill="#089981"/>
<rect x="1291.2" y="239.2" width="1.8" height="45.6" fill="#f23645"/>
<rect x="1288.7" y="240.3" width="6.8" height="28.8" fill="#f23645"/>
<rect x="1299.7" y="253.5" width="1.8" height="254.5" fill="#f23645"/>
<rect x="1297.2" y="268.0" width="6.8" height="65.0" fill="#f23645"/>
<rect x="1308.2" y="299.9" width="1.8" height="60.1" fill="#f23645"/>
<rect x="1305.7" y="333.8" width="6.8" height="9.2" fill="#f23645"/>
<rect x="1316.7" y="299.9" width="1.8" height="51.5" fill="#089981"/>
<rect x="1314.2" y="313.5" width="6.8" height="29.4" fill="#089981"/>
<rect x="1325.2" y="271.2" width="1.8" height="57.3" fill="#089981"/>
<rect x="1322.7" y="284.4" width="6.8" height="29.4" fill="#089981"/>
<rect x="1333.7" y="276.3" width="1.8" height="60.3" fill="#f23645"/>
<rect x="1331.2" y="284.4" width="6.8" height="30.9" fill="#f23645"/>
<rect x="1342.2" y="297.1" width="1.8" height="44.1" fill="#f23645"/>
<rect x="1339.7" y="314.8" width="6.8" height="21.7" fill="#f23645"/>
<rect x="1350.7" y="314.2" width="1.8" height="33.4" fill="#f23645"/>
<rect x="1348.2" y="336.1" width="6.8" height="6.8" fill="#f23645"/>
<rect x="1359.3" y="334.4" width="1.8" height="44.3" fill="#f23645"/>
<rect x="1356.8" y="342.5" width="6.8" height="13.8" fill="#f23645"/>
<rect x="1367.8" y="341.9" width="1.8" height="22.8" fill="#089981"/>
<rect x="1365.3" y="341.9" width="6.8" height="14.5" fill="#089981"/>
<rect x="1376.3" y="324.2" width="1.8" height="29.3" fill="#089981"/>
<rect x="1373.8" y="337.1" width="6.8" height="5.0" fill="#089981"/>
<rect x="1384.8" y="313.1" width="1.8" height="29.6" fill="#089981"/>
<rect x="1382.3" y="330.6" width="6.8" height="6.0" fill="#089981"/>
<rect x="1393.3" y="326.3" width="1.8" height="33.0" fill="#f23645"/>
<rect x="1390.8" y="330.1" width="6.8" height="27.7" fill="#f23645"/>
<rect x="1401.8" y="342.7" width="1.8" height="23.6" fill="#089981"/>
<rect x="1399.3" y="348.2" width="6.8" height="9.4" fill="#089981"/>
<rect x="1410.3" y="301.2" width="1.8" height="49.0" fill="#089981"/>
<rect x="1407.8" y="306.7" width="6.8" height="42.0" fill="#089981"/>
<rect x="1418.8" y="300.3" width="1.8" height="22.1" fill="#f23645"/>
<rect x="1416.3" y="306.7" width="6.8" height="10.4" fill="#f23645"/>
<rect x="1427.3" y="260.9" width="1.8" height="59.4" fill="#089981"/>
<rect x="1424.8" y="265.6" width="6.8" height="51.5" fill="#089981"/>
<rect x="1435.8" y="220.2" width="1.8" height="51.3" fill="#089981"/>
<rect x="1433.3" y="233.2" width="6.8" height="32.4" fill="#089981"/>
<rect x="1444.3" y="211.3" width="1.8" height="40.9" fill="#f23645"/>
<rect x="1441.8" y="233.2" width="6.8" height="8.5" fill="#f23645"/>
<rect x="1452.8" y="212.4" width="1.8" height="34.1" fill="#089981"/>
<rect x="1450.3" y="229.0" width="6.8" height="12.8" fill="#089981"/>
<rect x="1461.4" y="206.4" width="1.8" height="41.7" fill="#089981"/>
<rect x="1458.9" y="226.2" width="6.8" height="3.6" fill="#089981"/>
<rect x="1469.9" y="203.2" width="1.8" height="77.3" fill="#f23645"/>
<rect x="1467.4" y="226.2" width="6.8" height="27.3" fill="#f23645"/>
<rect x="1478.4" y="244.7" width="1.8" height="39.6" fill="#f23645"/>
<rect x="1475.9" y="253.5" width="6.8" height="18.1" fill="#f23645"/>
<rect x="1486.9" y="262.4" width="1.8" height="18.1" fill="#f23645"/>
<rect x="1484.4" y="271.4" width="6.8" height="4.3" fill="#f23645"/>
<rect x="1495.4" y="273.1" width="1.8" height="24.1" fill="#f23645"/>
<rect x="1492.9" y="275.2" width="6.8" height="9.2" fill="#f23645"/>
<rect x="1503.9" y="281.2" width="1.8" height="46.2" fill="#f23645"/>
<rect x="1501.4" y="283.3" width="6.8" height="24.5" fill="#f23645"/>
<rect x="1512.4" y="301.2" width="1.8" height="55.4" fill="#f23645"/>
<rect x="1509.9" y="307.1" width="6.8" height="12.8" fill="#f23645"/>
<rect x="1520.9" y="286.3" width="1.8" height="48.6" fill="#089981"/>
<rect x="1518.4" y="294.4" width="6.8" height="25.6" fill="#089981"/>
<rect x="1529.4" y="294.4" width="1.8" height="38.8" fill="#f23645"/>
<rect x="1526.9" y="294.8" width="6.8" height="30.0" fill="#f23645"/>
<rect x="1537.9" y="274.5" width="1.8" height="55.4" fill="#089981"/>
<rect x="1535.4" y="286.3" width="6.8" height="38.5" fill="#089981"/>
<rect x="1546.4" y="275.4" width="1.8" height="36.8" fill="#f23645"/>
<rect x="1543.9" y="286.3" width="6.8" height="22.5" fill="#f23645"/>
<rect x="1554.9" y="280.2" width="1.8" height="36.7" fill="#089981"/>
<rect x="1552.4" y="290.8" width="6.8" height="17.6" fill="#089981"/>
<rect x="1563.4" y="276.4" width="1.8" height="23.8" fill="#f23645"/>
<rect x="1560.9" y="290.8" width="6.8" height="4.2" fill="#f23645"/>
<rect x="1572.0" y="289.1" width="1.8" height="36.3" fill="#f23645"/>
<rect x="1569.5" y="295.1" width="6.8" height="28.9" fill="#f23645"/>
<rect x="1580.5" y="300.6" width="1.8" height="34.5" fill="#f23645"/>
<rect x="1578.0" y="323.1" width="6.8" height="3.8" fill="#f23645"/>
<rect x="1589.0" y="310.9" width="1.8" height="33.2" fill="#089981"/>
<rect x="1586.5" y="324.2" width="6.8" height="2.2" fill="#089981"/>
<rect x="1597.5" y="324.2" width="1.8" height="26.1" fill="#f23645"/>
<rect x="1595.0" y="324.2" width="6.8" height="11.1" fill="#f23645"/>
<rect x="1606.0" y="313.1" width="1.8" height="23.4" fill="#089981"/>
<rect x="1603.5" y="324.2" width="6.8" height="11.6" fill="#089981"/>
<rect x="1614.5" y="304.2" width="1.8" height="30.9" fill="#089981"/>
<rect x="1612.0" y="322.0" width="6.8" height="2.0" fill="#089981"/>
<rect x="1623.0" y="315.8" width="1.8" height="23.4" fill="#089981"/>
<rect x="1620.5" y="316.2" width="6.8" height="7.3" fill="#089981"/>
<rect x="1631.5" y="292.0" width="1.8" height="35.0" fill="#f23645"/>
<rect x="1629.0" y="316.4" width="6.8" height="7.1" fill="#f23645"/>
<rect x="1640.0" y="318.0" width="1.8" height="20.0" fill="#089981"/>
<rect x="1637.5" y="320.7" width="6.8" height="2.9" fill="#089981"/>
<rect x="1648.5" y="311.3" width="1.8" height="24.5" fill="#f23645"/>
<rect x="1646.0" y="320.9" width="6.8" height="14.2" fill="#f23645"/>
<rect x="1657.0" y="324.2" width="1.8" height="71.7" fill="#f23645"/>
<rect x="1654.5" y="334.3" width="6.8" height="39.4" fill="#f23645"/>
<rect x="1665.5" y="365.9" width="1.8" height="53.4" fill="#f23645"/>
<rect x="1663.0" y="373.2" width="6.8" height="39.9" fill="#f23645"/>
<rect x="1674.1" y="385.2" width="1.8" height="31.4" fill="#089981"/>
<rect x="1671.6" y="393.7" width="6.8" height="19.4" fill="#089981"/>
<rect x="1682.6" y="365.2" width="1.8" height="43.6" fill="#089981"/>
<rect x="1680.1" y="374.1" width="6.8" height="19.6" fill="#089981"/>
<rect x="1691.1" y="366.5" width="1.8" height="27.6" fill="#089981"/>
<rect x="1688.6" y="373.0" width="6.8" height="2.0" fill="#089981"/>
<rect x="1699.6" y="347.0" width="1.8" height="34.1" fill="#089981"/>
<rect x="1697.1" y="348.1" width="6.8" height="26.7" fill="#089981"/>
<rect x="1708.1" y="345.2" width="1.8" height="21.4" fill="#f23645"/>
<rect x="1705.6" y="348.5" width="6.8" height="16.3" fill="#f23645"/>
<rect x="1716.6" y="349.6" width="1.8" height="24.5" fill="#089981"/>
<rect x="1714.1" y="350.3" width="6.8" height="14.5" fill="#089981"/>
<line x1="17" y1="349.7" x2="1917" y2="349.7" stroke="#089981" stroke-width="1.85" stroke-dasharray="1.85 3.02" stroke-dashoffset="-0.5"/>
</g>
<g clip-path="url(#cd)">
<rect x="12.9" y="790.0" width="6.8" height="9.6" fill="#b2dfdb"/>
<rect x="21.4" y="790.0" width="6.8" height="9.6" fill="#b2dfdb"/>
<rect x="29.9" y="792.4" width="6.8" height="7.2" fill="#b2dfdb"/>
<rect x="38.4" y="793.4" width="6.8" height="6.2" fill="#b2dfdb"/>
<rect x="46.9" y="793.4" width="6.8" height="6.2" fill="#b2dfdb"/>
<rect x="55.4" y="795.9" width="6.8" height="3.7" fill="#b2dfdb"/>
<rect x="63.9" y="795.9" width="6.8" height="3.7" fill="#b2dfdb"/>
<rect x="72.4" y="797.3" width="6.8" height="2.3" fill="#b2dfdb"/>
<rect x="81.0" y="798.8" width="6.8" height="2.0" fill="#b2dfdb"/>
<rect x="89.5" y="797.8" width="6.8" height="2.0" fill="#26a69a"/>
<rect x="98.0" y="790.0" width="6.8" height="9.6" fill="#26a69a"/>
<rect x="106.5" y="786.9" width="6.8" height="12.7" fill="#26a69a"/>
<rect x="115.0" y="783.8" width="6.8" height="15.8" fill="#26a69a"/>
<rect x="123.5" y="776.2" width="6.8" height="23.4" fill="#26a69a"/>
<rect x="132.0" y="777.1" width="6.8" height="22.5" fill="#b2dfdb"/>
<rect x="140.5" y="781.0" width="6.8" height="18.6" fill="#b2dfdb"/>
<rect x="149.0" y="787.7" width="6.8" height="11.9" fill="#b2dfdb"/>
<rect x="157.5" y="797.3" width="6.8" height="2.3" fill="#b2dfdb"/>
<rect x="166.0" y="799.6" width="6.8" height="2.9" fill="#ff5252"/>
<rect x="174.5" y="799.6" width="6.8" height="6.2" fill="#ff5252"/>
<rect x="183.1" y="799.6" width="6.8" height="7.0" fill="#ff5252"/>
<rect x="191.6" y="799.6" width="6.8" height="4.7" fill="#ffcdd2"/>
<rect x="200.1" y="799.6" width="6.8" height="3.9" fill="#ffcdd2"/>
<rect x="208.6" y="799.6" width="6.8" height="4.9" fill="#ff5252"/>
<rect x="217.1" y="799.6" width="6.8" height="8.0" fill="#ff5252"/>
<rect x="225.6" y="799.6" width="6.8" height="11.9" fill="#ff5252"/>
<rect x="234.1" y="799.6" width="6.8" height="10.9" fill="#ffcdd2"/>
<rect x="242.6" y="799.6" width="6.8" height="10.9" fill="#ffcdd2"/>
<rect x="251.1" y="799.6" width="6.8" height="5.5" fill="#ffcdd2"/>
<rect x="259.6" y="796.7" width="6.8" height="2.9" fill="#26a69a"/>
<rect x="268.1" y="792.6" width="6.8" height="7.0" fill="#26a69a"/>
<rect x="276.6" y="793.4" width="6.8" height="6.2" fill="#b2dfdb"/>
<rect x="285.1" y="791.8" width="6.8" height="7.8" fill="#26a69a"/>
<rect x="293.7" y="795.1" width="6.8" height="4.5" fill="#b2dfdb"/>
<rect x="302.2" y="796.7" width="6.8" height="2.9" fill="#b2dfdb"/>
<rect x="310.7" y="797.3" width="6.8" height="2.3" fill="#b2dfdb"/>
<rect x="319.2" y="799.6" width="6.8" height="2.1" fill="#ff5252"/>
<rect x="327.7" y="799.6" width="6.8" height="6.2" fill="#ff5252"/>
<rect x="336.2" y="799.6" width="6.8" height="12.9" fill="#ff5252"/>
<rect x="344.7" y="799.6" width="6.8" height="21.7" fill="#ff5252"/>
<rect x="353.2" y="799.6" width="6.8" height="25.8" fill="#ff5252"/>
<rect x="361.7" y="799.6" width="6.8" height="25.0" fill="#ffcdd2"/>
<rect x="370.2" y="799.6" width="6.8" height="20.9" fill="#ffcdd2"/>
<rect x="378.7" y="799.6" width="6.8" height="17.8" fill="#ffcdd2"/>
<rect x="387.2" y="799.6" width="6.8" height="16.8" fill="#ffcdd2"/>
<rect x="395.8" y="799.6" width="6.8" height="16.8" fill="#ff5252"/>
<rect x="404.3" y="799.6" width="6.8" height="14.8" fill="#ffcdd2"/>
<rect x="412.8" y="799.6" width="6.8" height="11.9" fill="#ffcdd2"/>
<rect x="421.3" y="799.6" width="6.8" height="7.0" fill="#ffcdd2"/>
<rect x="429.8" y="799.6" width="6.8" height="3.7" fill="#ffcdd2"/>
<rect x="438.3" y="799.6" width="6.8" height="5.5" fill="#ff5252"/>
<rect x="446.8" y="799.6" width="6.8" height="2.9" fill="#ffcdd2"/>
<rect x="455.3" y="799.0" width="6.8" height="2.0" fill="#26a69a"/>
<rect x="463.8" y="799.6" width="6.8" height="2.0" fill="#ff5252"/>
<rect x="472.3" y="799.6" width="6.8" height="2.0" fill="#ff5252"/>
<rect x="480.8" y="799.2" width="6.8" height="2.0" fill="#26a69a"/>
<rect x="489.3" y="799.6" width="6.8" height="2.1" fill="#ff5252"/>
<rect x="497.8" y="799.6" width="6.8" height="2.9" fill="#ff5252"/>
<rect x="506.4" y="799.0" width="6.8" height="2.0" fill="#26a69a"/>
<rect x="514.9" y="794.1" width="6.8" height="5.5" fill="#26a69a"/>
<rect x="523.4" y="786.9" width="6.8" height="12.7" fill="#26a69a"/>
<rect x="531.9" y="783.0" width="6.8" height="16.6" fill="#26a69a"/>
<rect x="540.4" y="778.1" width="6.8" height="21.5" fill="#26a69a"/>
<rect x="548.9" y="778.9" width="6.8" height="20.7" fill="#b2dfdb"/>
<rect x="557.4" y="780.5" width="6.8" height="19.1" fill="#b2dfdb"/>
<rect x="565.9" y="784.6" width="6.8" height="15.0" fill="#b2dfdb"/>
<rect x="574.4" y="790.0" width="6.8" height="9.6" fill="#b2dfdb"/>
<rect x="582.9" y="795.9" width="6.8" height="3.7" fill="#b2dfdb"/>
<rect x="591.4" y="799.6" width="6.8" height="2.0" fill="#ff5252"/>
<rect x="599.9" y="799.6" width="6.8" height="2.1" fill="#ff5252"/>
<rect x="608.5" y="799.6" width="6.8" height="5.5" fill="#ff5252"/>
<rect x="617.0" y="799.6" width="6.8" height="5.1" fill="#ffcdd2"/>
<rect x="625.5" y="799.6" width="6.8" height="8.8" fill="#ff5252"/>
<rect x="634.0" y="799.6" width="6.8" height="13.7" fill="#ff5252"/>
<rect x="642.5" y="799.6" width="6.8" height="13.3" fill="#ffcdd2"/>
<rect x="651.0" y="799.6" width="6.8" height="13.7" fill="#ff5252"/>
<rect x="659.5" y="799.6" width="6.8" height="13.3" fill="#ffcdd2"/>
<rect x="668.0" y="799.6" width="6.8" height="12.7" fill="#ffcdd2"/>
<rect x="676.5" y="799.6" width="6.8" height="12.7" fill="#ffcdd2"/>
<rect x="685.0" y="799.6" width="6.8" height="13.7" fill="#ff5252"/>
<rect x="693.5" y="799.6" width="6.8" height="15.8" fill="#ff5252"/>
<rect x="702.0" y="799.6" width="6.8" height="21.7" fill="#ff5252"/>
<rect x="710.5" y="799.6" width="6.8" height="25.0" fill="#ff5252"/>
<rect x="719.1" y="799.6" width="6.8" height="25.0" fill="#ffcdd2"/>
<rect x="727.6" y="799.6" width="6.8" height="21.7" fill="#ffcdd2"/>
<rect x="736.1" y="799.6" width="6.8" height="19.1" fill="#ffcdd2"/>
<rect x="744.6" y="799.6" width="6.8" height="17.8" fill="#ffcdd2"/>
<rect x="753.1" y="799.6" width="6.8" height="10.9" fill="#ffcdd2"/>
<rect x="761.6" y="799.6" width="6.8" height="6.2" fill="#ffcdd2"/>
<rect x="770.1" y="798.2" width="6.8" height="2.0" fill="#26a69a"/>
<rect x="778.6" y="791.0" width="6.8" height="8.6" fill="#26a69a"/>
<rect x="787.1" y="790.0" width="6.8" height="9.6" fill="#26a69a"/>
<rect x="795.6" y="787.9" width="6.8" height="11.7" fill="#26a69a"/>
<rect x="804.1" y="783.2" width="6.8" height="16.4" fill="#26a69a"/>
<rect x="812.6" y="783.0" width="6.8" height="16.6" fill="#b2dfdb"/>
<rect x="821.2" y="781.0" width="6.8" height="18.6" fill="#26a69a"/>
<rect x="829.7" y="783.0" width="6.8" height="16.6" fill="#b2dfdb"/>
<rect x="838.2" y="785.1" width="6.8" height="14.5" fill="#b2dfdb"/>
<rect x="846.7" y="792.4" width="6.8" height="7.2" fill="#b2dfdb"/>
<rect x="855.2" y="799.6" width="6.8" height="2.0" fill="#ff5252"/>
<rect x="863.7" y="799.6" width="6.8" height="2.9" fill="#ff5252"/>
<rect x="872.2" y="799.6" width="6.8" height="8.8" fill="#ff5252"/>
<rect x="880.7" y="799.6" width="6.8" height="3.9" fill="#ffcdd2"/>
<rect x="889.2" y="799.6" width="6.8" height="2.0" fill="#ffcdd2"/>
<rect x="897.7" y="797.8" width="6.8" height="2.0" fill="#26a69a"/>
<rect x="906.2" y="799.6" width="6.8" height="2.1" fill="#ff5252"/>
<rect x="914.7" y="794.1" width="6.8" height="5.5" fill="#26a69a"/>
<rect x="923.2" y="793.0" width="6.8" height="6.6" fill="#26a69a"/>
<rect x="931.8" y="795.1" width="6.8" height="4.5" fill="#b2dfdb"/>
<rect x="940.3" y="798.2" width="6.8" height="2.0" fill="#b2dfdb"/>
<rect x="948.8" y="799.6" width="6.8" height="2.1" fill="#ff5252"/>
<rect x="957.3" y="799.6" width="6.8" height="3.9" fill="#ff5252"/>
<rect x="965.8" y="799.6" width="6.8" height="6.2" fill="#ff5252"/>
<rect x="974.3" y="799.6" width="6.8" height="5.5" fill="#ffcdd2"/>
<rect x="982.8" y="799.6" width="6.8" height="2.9" fill="#ffcdd2"/>
<rect x="991.3" y="799.6" width="6.8" height="2.1" fill="#ffcdd2"/>
<rect x="999.8" y="798.0" width="6.8" height="2.0" fill="#26a69a"/>
<rect x="1008.3" y="797.8" width="6.8" height="2.0" fill="#b2dfdb"/>
<rect x="1016.8" y="796.7" width="6.8" height="2.9" fill="#26a69a"/>
<rect x="1025.3" y="791.0" width="6.8" height="8.6" fill="#26a69a"/>
<rect x="1033.9" y="783.8" width="6.8" height="15.8" fill="#26a69a"/>
<rect x="1042.4" y="777.1" width="6.8" height="22.5" fill="#26a69a"/>
<rect x="1050.9" y="772.3" width="6.8" height="27.3" fill="#26a69a"/>
<rect x="1059.4" y="774.0" width="6.8" height="25.6" fill="#b2dfdb"/>
<rect x="1067.9" y="777.1" width="6.8" height="22.5" fill="#b2dfdb"/>
<rect x="1076.4" y="782.0" width="6.8" height="17.6" fill="#b2dfdb"/>
<rect x="1084.9" y="785.9" width="6.8" height="13.7" fill="#b2dfdb"/>
<rect x="1093.4" y="789.2" width="6.8" height="10.4" fill="#b2dfdb"/>
<rect x="1101.9" y="787.9" width="6.8" height="11.7" fill="#26a69a"/>
<rect x="1110.4" y="785.9" width="6.8" height="13.7" fill="#26a69a"/>
<rect x="1118.9" y="790.0" width="6.8" height="9.6" fill="#b2dfdb"/>
<rect x="1127.4" y="796.7" width="6.8" height="2.9" fill="#b2dfdb"/>
<rect x="1135.9" y="799.6" width="6.8" height="7.8" fill="#ff5252"/>
<rect x="1144.5" y="799.6" width="6.8" height="19.1" fill="#ff5252"/>
<rect x="1153.0" y="799.6" width="6.8" height="29.9" fill="#ff5252"/>
<rect x="1161.5" y="799.6" width="6.8" height="34.8" fill="#ff5252"/>
<rect x="1170.0" y="799.6" width="6.8" height="43.8" fill="#ff5252"/>
<rect x="1178.5" y="799.6" width="6.8" height="40.2" fill="#ffcdd2"/>
<rect x="1187.0" y="799.6" width="6.8" height="35.4" fill="#ffcdd2"/>
<rect x="1195.5" y="799.6" width="6.8" height="28.1" fill="#ffcdd2"/>
<rect x="1204.0" y="799.6" width="6.8" height="22.1" fill="#ffcdd2"/>
<rect x="1212.5" y="799.6" width="6.8" height="21.5" fill="#ffcdd2"/>
<rect x="1221.0" y="799.6" width="6.8" height="15.8" fill="#ffcdd2"/>
<rect x="1229.5" y="799.6" width="6.8" height="6.2" fill="#ffcdd2"/>
<rect x="1238.0" y="799.6" width="6.8" height="2.0" fill="#ffcdd2"/>
<rect x="1246.6" y="798.2" width="6.8" height="2.0" fill="#26a69a"/>
<rect x="1255.1" y="798.2" width="6.8" height="2.0" fill="#26a69a"/>
<rect x="1272.1" y="799.6" width="6.8" height="3.9" fill="#ff5252"/>
<rect x="1280.6" y="799.6" width="6.8" height="3.5" fill="#ffcdd2"/>
<rect x="1289.1" y="799.6" width="6.8" height="7.8" fill="#ff5252"/>
<rect x="1297.6" y="799.6" width="6.8" height="18.2" fill="#ff5252"/>
<rect x="1306.1" y="799.6" width="6.8" height="26.0" fill="#ff5252"/>
<rect x="1314.6" y="799.6" width="6.8" height="25.0" fill="#ffcdd2"/>
<rect x="1323.1" y="799.6" width="6.8" height="18.6" fill="#ffcdd2"/>
<rect x="1331.6" y="799.6" width="6.8" height="17.8" fill="#ffcdd2"/>
<rect x="1340.1" y="799.6" width="6.8" height="18.6" fill="#ff5252"/>
<rect x="1348.6" y="799.6" width="6.8" height="19.1" fill="#ff5252"/>
<rect x="1357.2" y="799.6" width="6.8" height="20.1" fill="#ff5252"/>
<rect x="1365.7" y="799.6" width="6.8" height="16.8" fill="#ffcdd2"/>
<rect x="1374.2" y="799.6" width="6.8" height="12.9" fill="#ffcdd2"/>
<rect x="1382.7" y="799.6" width="6.8" height="8.0" fill="#ffcdd2"/>
<rect x="1391.2" y="799.6" width="6.8" height="8.0" fill="#ff5252"/>
<rect x="1399.7" y="799.6" width="6.8" height="6.2" fill="#ffcdd2"/>
<rect x="1408.2" y="796.7" width="6.8" height="2.9" fill="#26a69a"/>
<rect x="1416.7" y="792.6" width="6.8" height="7.0" fill="#26a69a"/>
<rect x="1425.2" y="783.0" width="6.8" height="16.6" fill="#26a69a"/>
<rect x="1433.7" y="772.3" width="6.8" height="27.3" fill="#26a69a"/>
<rect x="1442.2" y="767.6" width="6.8" height="32.0" fill="#26a69a"/>
<rect x="1450.7" y="764.1" width="6.8" height="35.5" fill="#26a69a"/>
<rect x="1459.3" y="763.3" width="6.8" height="36.3" fill="#26a69a"/>
<rect x="1467.8" y="768.2" width="6.8" height="31.4" fill="#b2dfdb"/>
<rect x="1476.3" y="775.6" width="6.8" height="24.0" fill="#b2dfdb"/>
<rect x="1484.8" y="782.0" width="6.8" height="17.6" fill="#b2dfdb"/>
<rect x="1493.3" y="787.9" width="6.8" height="11.7" fill="#b2dfdb"/>
<rect x="1501.8" y="796.3" width="6.8" height="3.3" fill="#b2dfdb"/>
<rect x="1510.3" y="799.6" width="6.8" height="2.9" fill="#ff5252"/>
<rect x="1518.8" y="799.6" width="6.8" height="3.9" fill="#ff5252"/>
<rect x="1527.3" y="799.6" width="6.8" height="7.8" fill="#ff5252"/>
<rect x="1535.8" y="799.6" width="6.8" height="4.7" fill="#ffcdd2"/>
<rect x="1544.3" y="799.6" width="6.8" height="5.5" fill="#ff5252"/>
<rect x="1552.8" y="799.6" width="6.8" height="3.7" fill="#ffcdd2"/>
<rect x="1561.3" y="799.6" width="6.8" height="2.0" fill="#ffcdd2"/>
<rect x="1569.9" y="799.6" width="6.8" height="5.4" fill="#ff5252"/>
<rect x="1578.4" y="799.6" width="6.8" height="7.9" fill="#ff5252"/>
<rect x="1586.9" y="799.6" width="6.8" height="7.9" fill="#ff5252"/>
<rect x="1595.4" y="799.6" width="6.8" height="9.5" fill="#ff5252"/>
<rect x="1603.9" y="799.6" width="6.8" height="8.5" fill="#ffcdd2"/>
<rect x="1612.4" y="799.6" width="6.8" height="6.8" fill="#ffcdd2"/>
<rect x="1620.9" y="799.6" width="6.8" height="4.7" fill="#ffcdd2"/>
<rect x="1629.4" y="799.6" width="6.8" height="3.0" fill="#ffcdd2"/>
<rect x="1637.9" y="799.6" width="6.8" height="2.0" fill="#ffcdd2"/>
<rect x="1646.4" y="799.6" width="6.8" height="3.0" fill="#ff5252"/>
<rect x="1654.9" y="799.6" width="6.8" height="8.8" fill="#ff5252"/>
<rect x="1663.4" y="799.6" width="6.8" height="17.9" fill="#ff5252"/>
<rect x="1672.0" y="799.6" width="6.8" height="19.0" fill="#ff5252"/>
<rect x="1680.5" y="799.6" width="6.8" height="15.9" fill="#ffcdd2"/>
<rect x="1689.0" y="799.6" width="6.8" height="12.9" fill="#ffcdd2"/>
<rect x="1697.5" y="799.6" width="6.8" height="6.1" fill="#ffcdd2"/>
<rect x="1706.0" y="799.6" width="6.8" height="3.8" fill="#ffcdd2"/>
<rect x="1714.5" y="798.5" width="6.8" height="2.0" fill="#26a69a"/>
<line x1="17" y1="800.0" x2="1917" y2="800.0" stroke="#a0a0a0" stroke-opacity="0.85" stroke-width="1.6" stroke-dasharray="7.8 10" stroke-dashoffset="-1.3"/>
<polyline points="16.4,748.6 24.5,747.0 32.9,747.2 41.4,746.2 49.8,744.7 58.4,746.1 67.0,745.3 75.4,746.2 84.0,748.0 92.4,746.6 101.0,735.9 109.4,730.4 118.0,722.2 126.4,709.5 135.0,704.1 143.6,703.3 152.0,705.6 160.6,715.4 169.0,721.2 177.6,726.1 186.0,728.7 194.6,727.1 203.0,727.5 211.6,729.1 220.0,734.5 228.6,740.8 237.1,743.3 245.5,745.7 254.1,741.2 262.5,731.4 271.1,726.1 279.5,725.2 288.1,721.2 296.5,723.8 305.1,724.6 313.7,724.8 322.1,729.1 330.7,734.9 339.1,745.7 347.7,758.0 356.1,768.1 364.7,774.4 373.3,774.6 381.7,776.3 390.3,778.9 399.3,783.5 407.2,785.7 415.8,785.1 424.2,781.4 432.8,779.5 441.2,782.4 449.8,779.8 458.2,776.9 466.8,777.5 475.4,778.3 483.8,777.1 492.4,779.5 500.8,781.0 509.4,778.3 517.8,771.6 526.4,761.3 535.0,752.1 543.4,742.3 552.0,738.4 560.4,734.9 568.9,734.9 577.3,737.9 585.9,742.3 594.5,747.2 602.9,749.2 611.5,754.1 619.9,754.8 628.5,760.3 636.9,768.7 645.5,771.1 654.1,775.0 662.5,778.3 671.1,780.8 679.5,783.2 688.1,787.3 696.5,793.1 705.1,805.2 713.7,813.4 722.1,819.5 730.7,822.2 739.1,824.8 747.7,827.1 756.1,823.4 764.6,820.3 773.2,811.5 781.6,803.3 790.1,799.8 798.6,794.5 807.2,784.1 815.6,781.2 824.2,774.4 832.6,772.0 841.2,771.1 849.8,775.4 858.2,782.4 866.8,786.3 875.2,793.9 883.8,791.0 892.1,789.0 900.7,785.3 909.3,789.0 917.7,780.8 926.3,777.5 934.7,778.3 943.3,781.0 951.7,784.3 960.3,786.7 968.9,791.0 977.3,791.0 985.9,789.6 994.3,789.0 1002.9,785.3 1011.3,785.1 1019.9,783.2 1028.5,775.0 1036.9,764.2 1045.5,751.5 1053.9,739.8 1062.5,734.3 1070.9,732.0 1079.5,732.6 1088.0,733.4 1096.4,734.3 1105.0,729.1 1113.4,724.4 1122.0,725.7 1130.4,731.6 1139.0,743.1 1147.6,760.7 1156.0,776.9 1164.6,791.0 1173.0,810.7 1180.8,817.2 1190.0,821.1 1198.6,821.2 1207.0,822.8 1215.5,825.4 1223.9,823.8 1232.5,815.6 1241.1,811.1 1249.5,808.2 1258.1,807.8 1266.5,809.1 1275.1,813.6 1283.5,814.6 1292.1,819.5 1300.5,834.5 1309.1,848.8 1317.5,853.7 1326.1,851.5 1334.7,855.0 1343.1,860.5 1351.7,865.8 1360.1,871.2 1368.7,872.2 1377.1,871.2 1385.7,868.3 1394.3,870.3 1402.7,869.3 1411.2,860.5 1419.6,854.1 1428.2,840.4 1436.6,822.8 1445.2,810.7 1453.8,797.4 1462.2,788.0 1470.8,785.1 1479.2,786.1 1487.8,788.2 1496.2,791.0 1504.8,797.4 1513.2,805.2 1521.8,806.8 1530.4,813.0 1538.8,810.7 1547.4,813.0 1555.8,811.5 1560.0,811.2 1564.9,811.0 1572.8,815.1 1580.7,818.9 1589.8,822.0 1598.4,825.1 1606.9,825.7 1615.4,825.7 1624.0,824.0 1632.4,824.0 1640.9,823.1 1649.4,824.3 1658.0,832.8 1666.4,845.0 1674.9,851.5 1683.5,852.1 1692.0,852.1 1700.5,847.1 1708.9,845.0 1717.5,840.3" fill="none" stroke="#2962ff" stroke-width="2" stroke-linejoin="round"/>
<polyline points="16.4,758.8 24.5,756.0 32.9,754.5 41.4,753.1 49.8,751.5 58.4,750.2 67.0,749.2 75.4,748.6 84.0,748.6 92.4,748.0 101.0,745.3 109.4,742.1 118.0,737.9 126.4,732.0 135.0,726.1 143.6,721.8 152.0,718.7 160.6,718.3 169.0,719.3 177.6,720.9 186.0,722.6 194.6,723.6 203.0,724.6 211.6,725.5 220.0,728.1 228.6,731.0 237.1,733.6 245.5,735.9 254.1,736.5 262.5,735.3 271.1,733.4 279.5,732.0 288.1,730.0 296.5,728.7 305.1,727.7 313.7,727.1 322.1,727.5 330.7,728.7 339.1,732.0 347.7,737.5 356.1,745.7 364.7,752.1 373.3,756.4 381.7,760.3 390.3,765.2 399.3,768.4 407.2,771.3 415.8,774.0 424.2,775.4 432.8,776.1 441.2,777.1 449.8,777.7 458.2,777.7 466.8,777.7 475.4,777.9 483.8,777.7 492.4,778.1 500.8,778.9 509.4,778.7 517.8,777.3 526.4,774.0 535.0,769.1 543.4,763.8 552.0,759.3 560.4,754.5 568.9,750.5 577.3,748.0 585.9,747.0 594.5,747.2 602.9,747.6 611.5,748.6 619.9,749.8 628.5,752.1 636.9,755.4 645.5,758.4 654.1,761.9 662.5,765.2 671.1,768.5 679.5,771.1 688.1,774.4 696.5,778.3 705.1,784.1 713.7,790.2 722.1,797.0 730.7,803.3 739.1,807.8 747.7,811.1 756.1,813.4 764.6,814.4 773.2,813.6 781.6,812.1 790.1,809.7 798.6,806.2 807.2,801.7 815.6,797.8 824.2,793.5 832.6,789.2 841.2,785.3 849.8,783.4 858.2,783.2 866.8,783.8 875.2,785.7 883.8,786.5 892.1,787.1 900.7,787.1 909.3,787.3 917.7,786.3 926.3,784.5 934.7,783.2 943.3,782.8 951.7,783.2 960.3,783.8 968.9,785.1 977.3,786.3 985.9,786.9 994.3,787.3 1002.9,787.1 1011.3,786.5 1019.9,785.9 1028.5,783.4 1036.9,778.9 1045.5,773.0 1053.9,766.8 1062.5,760.3 1070.9,754.8 1079.5,750.5 1088.0,747.6 1096.4,744.7 1105.0,741.4 1113.4,738.2 1122.0,735.9 1130.4,735.3 1139.0,736.9 1147.6,741.8 1156.0,748.2 1164.6,757.4 1173.0,769.1 1180.8,777.4 1190.0,785.7 1198.6,793.5 1207.0,800.4 1215.5,805.2 1223.9,808.2 1232.5,809.5 1241.1,809.7 1249.5,809.5 1258.1,809.1 1266.5,809.1 1275.1,810.1 1283.5,811.1 1292.1,812.7 1300.5,817.9 1309.1,824.4 1317.5,830.0 1326.1,833.9 1334.7,838.4 1343.1,842.9 1351.7,847.6 1360.1,851.7 1368.7,856.0 1377.1,858.9 1385.7,861.3 1394.3,862.9 1402.7,863.8 1411.2,863.4 1419.6,861.5 1428.2,857.4 1436.6,850.2 1445.2,842.0 1453.8,833.2 1462.2,824.8 1470.8,816.4 1479.2,809.7 1487.8,805.2 1496.2,802.9 1504.8,801.9 1513.2,802.7 1521.8,803.9 1530.4,805.2 1538.8,806.6 1547.4,807.8 1555.8,808.6 1560.0,809.1 1564.9,809.0 1572.8,810.5 1580.7,812.2 1589.8,814.3 1598.4,816.3 1606.9,818.2 1615.4,819.6 1624.0,820.4 1632.4,821.0 1640.9,821.6 1649.4,821.7 1658.0,824.3 1666.4,828.1 1674.9,832.6 1683.5,836.9 1692.0,840.0 1700.5,841.2 1708.9,841.9 1717.5,841.6" fill="none" stroke="#ff6d00" stroke-width="2" stroke-linejoin="round"/>
</g>
<g clip-path="url(#cs1)">
<text x="1930.41" y="680.2" fill="#131722" stroke="#131722" stroke-width="0.18" font-family="Liberation Sans, sans-serif" font-size="19.6" font-weight="normal" letter-spacing="1.136">5.000</text>
<text x="1929.91" y="628.2" fill="#131722" stroke="#131722" stroke-width="0.18" font-family="Liberation Sans, sans-serif" font-size="19.6" font-weight="normal" letter-spacing="1.248">10.000</text>
<text x="1929.91" y="576.2" fill="#131722" stroke="#131722" stroke-width="0.18" font-family="Liberation Sans, sans-serif" font-size="19.6" font-weight="normal" letter-spacing="1.248">15.000</text>
<text x="1929.91" y="524.2" fill="#131722" stroke="#131722" stroke-width="0.18" font-family="Liberation Sans, sans-serif" font-size="19.6" font-weight="normal" letter-spacing="1.248">20.000</text>
<text x="1929.91" y="472.2" fill="#131722" stroke="#131722" stroke-width="0.18" font-family="Liberation Sans, sans-serif" font-size="19.6" font-weight="normal" letter-spacing="1.248">25.000</text>
<text x="1929.91" y="420.2" fill="#131722" stroke="#131722" stroke-width="0.18" font-family="Liberation Sans, sans-serif" font-size="19.6" font-weight="normal" letter-spacing="1.248">30.000</text>
<text x="1929.91" y="368.2" fill="#131722" stroke="#131722" stroke-width="0.18" font-family="Liberation Sans, sans-serif" font-size="19.6" font-weight="normal" letter-spacing="1.248">35.000</text>
<text x="1929.91" y="316.2" fill="#131722" stroke="#131722" stroke-width="0.18" font-family="Liberation Sans, sans-serif" font-size="19.6" font-weight="normal" letter-spacing="1.248">40.000</text>
<text x="1929.91" y="264.2" fill="#131722" stroke="#131722" stroke-width="0.18" font-family="Liberation Sans, sans-serif" font-size="19.6" font-weight="normal" letter-spacing="1.248">45.000</text>
<text x="1929.91" y="212.2" fill="#131722" stroke="#131722" stroke-width="0.18" font-family="Liberation Sans, sans-serif" font-size="19.6" font-weight="normal" letter-spacing="1.248">50.000</text>
<text x="1929.91" y="160.2" fill="#131722" stroke="#131722" stroke-width="0.18" font-family="Liberation Sans, sans-serif" font-size="19.6" font-weight="normal" letter-spacing="1.248">55.000</text>
<text x="1929.91" y="108.2" fill="#131722" stroke="#131722" stroke-width="0.18" font-family="Liberation Sans, sans-serif" font-size="19.6" font-weight="normal" letter-spacing="1.248">60.000</text>
</g>
<g clip-path="url(#cs2)">
<text x="1930.41" y="691.4" fill="#131722" stroke="#131722" stroke-width="0.18" font-family="Liberation Sans, sans-serif" font-size="19.6" font-weight="normal" letter-spacing="1.136">5.000</text>
<text x="1930.41" y="749.2" fill="#131722" stroke="#131722" stroke-width="0.18" font-family="Liberation Sans, sans-serif" font-size="19.6" font-weight="normal" letter-spacing="1.136">2.500</text>
</g>
<rect x="1916.9" y="265.0" width="88.8" height="26.8" rx="3.5" fill="#f23645"/>
<rect x="1916.9" y="265.0" width="6" height="26.8" rx="1.2" fill="#f23645"/>
<text x="1930.81" y="285.7" fill="#fff" stroke="#fff" stroke-width="0.18" font-family="Liberation Sans, sans-serif" font-size="19.6" font-weight="normal" letter-spacing="1.134">42.922</text>
<rect x="1916.9" y="308.7" width="88.8" height="27.2" rx="3.5" fill="#2962ff"/>
<rect x="1916.9" y="308.7" width="6" height="27.2" rx="1.2" fill="#2962ff"/>
<text x="1929.95" y="329.3" fill="#fff" stroke="#fff" stroke-width="0.18" font-family="Liberation Sans, sans-serif" font-size="19.6" font-weight="normal" letter-spacing="1.306">36.917</text>
<rect x="1916.9" y="335.9" width="106.6" height="49.7" rx="3.5" fill="#089981"/>
<rect x="1916.9" y="335.9" width="6" height="49.7" rx="1.2" fill="#089981"/>
<text x="1929.95" y="356.3" fill="#fff" stroke="#fff" stroke-width="0.18" font-family="Liberation Sans, sans-serif" font-size="19.6" font-weight="normal" letter-spacing="1.281">36.120</text>
<text x="1931.00" y="378.9" fill="#fff" stroke="#fff" stroke-width="0.18" opacity="0.78" font-family="Liberation Sans, sans-serif" font-size="19.6" font-weight="normal" letter-spacing="0.993">13:26:30</text>
<rect x="1916.9" y="389.9" width="88.8" height="27.4" rx="3.5" fill="#089981"/>
<rect x="1916.9" y="389.9" width="6" height="27.4" rx="1.2" fill="#089981"/>
<text x="1929.95" y="410.3" fill="#fff" stroke="#fff" stroke-width="0.18" font-family="Liberation Sans, sans-serif" font-size="19.6" font-weight="normal" letter-spacing="1.529">30.911</text>
<rect x="1916.9" y="784.7" width="76.0" height="27.2" rx="3.5" fill="#26a69a"/>
<rect x="1916.9" y="784.7" width="6" height="27.2" rx="1.2" fill="#26a69a"/>
<text x="1930.54" y="804.7" fill="#fff" stroke="#fff" stroke-width="0.18" font-family="Liberation Sans, sans-serif" font-size="19.6" font-weight="normal" letter-spacing="1.118">0.055</text>
<rect x="1916.9" y="826.6" width="89.0" height="27.3" rx="3.5" fill="#2962ff"/>
<rect x="1916.9" y="826.6" width="6" height="27.3" rx="1.2" fill="#2962ff"/>
<text x="1930.42" y="845.9" fill="#fff" stroke="#fff" stroke-width="0.18" font-family="Liberation Sans, sans-serif" font-size="19.6" font-weight="normal" letter-spacing="0.815">−1.741</text>
<rect x="1916.9" y="854.2" width="89.0" height="27.4" rx="3.5" fill="#ff6d00"/>
<rect x="1916.9" y="854.2" width="6" height="27.4" rx="1.2" fill="#ff6d00"/>
<text x="1930.42" y="873.8" fill="#fff" stroke="#fff" stroke-width="0.18" font-family="Liberation Sans, sans-serif" font-size="19.6" font-weight="normal" letter-spacing="1.075">−1.796</text>
<rect x="1916" y="45" width="114.5" height="53.5" fill="#fff"/>
<rect x="1921.4" y="50.1" width="103.8" height="42.1" rx="6.5" fill="#fff" stroke="#eff0f3" stroke-width="1.6"/>
<text x="1936.50" y="77.4" fill="#131722" stroke="#131722" stroke-width="0.4" font-family="Liberation Sans, sans-serif" font-size="19.4" font-weight="normal" letter-spacing="-0.471">USDT</text>
<circle cx="1717.5" cy="660.5" r="15.9" fill="#fff" stroke="#9c27b0" stroke-width="2.4"/>
<path d="M1722.2 651.9 L1711.0 661.2 L1716.6 661.2 L1712.6 668.8 L1724.1 659.9 L1718.5 659.9 Z" fill="#9c27b0" stroke="#9c27b0" stroke-width="0.25" stroke-linejoin="round"/>
<text x="16.03" y="31.9" fill="#131722" stroke="#131722" stroke-width="0.4" font-family="Liberation Sans, sans-serif" font-size="19.6" font-weight="normal" letter-spacing="0.462">Olivia_Stephanie created with TradingView.com, Nov 28, 2025 10:33 UTC</text>
<text x="29.46" y="76.2" fill="#131722" stroke="#131722" stroke-width="0.4" font-family="Liberation Sans, sans-serif" font-size="19.6" font-weight="normal" letter-spacing="0.261">Hyperliquid / Tether · 1D · KuCoin</text>
<text x="342.08" y="76.2" fill="#131722" stroke="#131722" stroke-width="0.4" font-family="Liberation Sans, sans-serif" font-size="19.6" font-weight="normal" letter-spacing="0.000">O</text>
<text x="357.70" y="76.2" fill="#089981" stroke="#089981" stroke-width="0.4" font-family="Liberation Sans, sans-serif" font-size="19.6" font-weight="normal" letter-spacing="0.656">34.732</text>
<text x="432.30" y="76.2" fill="#131722" stroke="#131722" stroke-width="0.4" font-family="Liberation Sans, sans-serif" font-size="19.6" font-weight="normal" letter-spacing="0.000">H</text>
<text x="446.65" y="76.2" fill="#089981" stroke="#089981" stroke-width="0.4" font-family="Liberation Sans, sans-serif" font-size="19.6" font-weight="normal" letter-spacing="0.295">36.128</text>
<text x="519.90" y="76.2" fill="#131722" stroke="#131722" stroke-width="0.4" font-family="Liberation Sans, sans-serif" font-size="19.6" font-weight="normal" letter-spacing="0.000">L</text>
<text x="530.55" y="76.2" fill="#089981" stroke="#089981" stroke-width="0.4" font-family="Liberation Sans, sans-serif" font-size="19.6" font-weight="normal" letter-spacing="0.022">33.791</text>
<text x="602.74" y="76.2" fill="#131722" stroke="#131722" stroke-width="0.4" font-family="Liberation Sans, sans-serif" font-size="19.6" font-weight="normal" letter-spacing="0.000">C</text>
<text x="617.05" y="76.2" fill="#089981" stroke="#089981" stroke-width="0.4" font-family="Liberation Sans, sans-serif" font-size="19.6" font-weight="normal" letter-spacing="0.241">36.120</text>
<text x="689.63" y="76.2" fill="#089981" stroke="#089981" stroke-width="0.4" font-family="Liberation Sans, sans-serif" font-size="19.6" font-weight="normal" letter-spacing="-0.367">+1.391</text>
<text x="755.94" y="76.2" fill="#089981" stroke="#089981" stroke-width="0.4" font-family="Liberation Sans, sans-serif" font-size="19.6" font-weight="normal" letter-spacing="0.099">(+4.01%)</text>
<text x="29.80" y="103.6" fill="#131722" stroke="#131722" stroke-width="0.4" font-family="Liberation Sans, sans-serif" font-size="19.6" font-weight="normal" letter-spacing="0.261">BB (20, SMA, close, 2)</text>
<text x="246.25" y="103.6" fill="#2962ff" stroke="#2962ff" stroke-width="0.4" font-family="Liberation Sans, sans-serif" font-size="19.6" font-weight="normal" letter-spacing="0.106">36.917</text>
<text x="318.81" y="103.6" fill="#f23645" stroke="#f23645" stroke-width="0.4" font-family="Liberation Sans, sans-serif" font-size="19.6" font-weight="normal" letter-spacing="0.714">42.922</text>
<text x="394.25" y="103.6" fill="#089981" stroke="#089981" stroke-width="0.4" font-family="Liberation Sans, sans-serif" font-size="19.6" font-weight="normal" letter-spacing="-0.051">30.911</text>
<text x="29.50" y="715.2" fill="#131722" stroke="#131722" stroke-width="0.4" font-family="Liberation Sans, sans-serif" font-size="19.6" font-weight="normal" letter-spacing="0.220">MACD (12, 26, close)</text>
<text x="233.39" y="715.2" fill="#26a69a" stroke="#26a69a" stroke-width="0.4" font-family="Liberation Sans, sans-serif" font-size="19.6" font-weight="normal" letter-spacing="0.581">0.055</text>
<text x="297.32" y="715.2" fill="#2962ff" stroke="#2962ff" stroke-width="0.4" font-family="Liberation Sans, sans-serif" font-size="19.6" font-weight="normal" letter-spacing="-0.985">−1.741</text>
<text x="365.52" y="715.2" fill="#ff6d00" stroke="#ff6d00" stroke-width="0.4" font-family="Liberation Sans, sans-serif" font-size="19.6" font-weight="normal" letter-spacing="-0.145">−1.796</text>
<text x="186.2" y="921.5" text-anchor="middle" fill="#131722" font-family="Liberation Sans, sans-serif" font-size="19.6" letter-spacing="0.34" font-weight="bold">Jun</text>
<text x="441.8" y="921.5" text-anchor="middle" fill="#131722" font-family="Liberation Sans, sans-serif" font-size="19.6" letter-spacing="0.34" font-weight="bold">Jul</text>
<text x="705.2" y="921.5" text-anchor="middle" fill="#131722" font-family="Liberation Sans, sans-serif" font-size="19.6" letter-spacing="0.34" font-weight="bold">Aug</text>
<text x="969.2" y="921.5" text-anchor="middle" fill="#131722" font-family="Liberation Sans, sans-serif" font-size="19.6" letter-spacing="0.34" font-weight="bold">Sep</text>
<text x="1224.2" y="921.5" text-anchor="middle" fill="#131722" font-family="Liberation Sans, sans-serif" font-size="19.6" letter-spacing="0.34" font-weight="bold">Oct</text>
<text x="1488.2" y="921.5" text-anchor="middle" fill="#131722" font-family="Liberation Sans, sans-serif" font-size="19.6" letter-spacing="0.34" font-weight="bold">Nov</text>
<text x="1743.8" y="921.5" text-anchor="middle" fill="#131722" font-family="Liberation Sans, sans-serif" font-size="19.6" letter-spacing="0.34" font-weight="bold">Dec</text>
<g fill="#131313"><path d="M19.3 971.2 H38.8 V995.8 H29.3 V981 H19.3 Z"/><circle cx="47.2" cy="975.9" r="4.9"/><path d="M56.4 971.2 H67.8 L58.6 995.8 H46.9 Z"/></g>
<g fill="#131313" stroke="none">
<rect x="79.3" y="971.4" width="17.7" height="4.7"/><rect x="86" y="971.4" width="5" height="24.4"/>
<rect x="97.2" y="978" width="4.7" height="17.8"/>
<path d="M99.55 989 C99.55 983 102.5 980.35 107.5 980.35" fill="none" stroke="#131313" stroke-width="4.7"/>
<circle cx="117.45" cy="986.9" r="7.15" fill="none" stroke="#131313" stroke-width="4.6" clip-path="url(#la)"/><rect x="121.7" y="978" width="4.3" height="17.8"/>
<circle cx="138.35" cy="986.9" r="7.1" fill="none" stroke="#131313" stroke-width="4.6" clip-path="url(#ld)"/><rect x="142.8" y="971.7" width="4.4" height="24.1"/>
<rect x="151" y="978" width="4.4" height="17.8"/><circle cx="153.2" cy="973.4" r="2.95"/>
<rect x="159.1" y="978" width="4.5" height="17.8"/>
<path d="M161.35 988 C161.35 982.5 163.5 979.6 167.2 979.6 C171 979.6 172.65 982 172.65 986 L172.65 995.8" fill="none" stroke="#131313" stroke-width="4.6"/>
<circle cx="187.3" cy="986.8" r="7.05" fill="none" stroke="#131313" stroke-width="4.6" clip-path="url(#lg)"/>
<path d="M193.8 978 L193.8 995.3 C193.8 1000.3 190.6 1001.3 187.5 1001.3 C184.6 1001.3 182 1000.4 180 998.5" fill="none" stroke="#131313" stroke-width="4.5"/>
<polygon points="195.35,971.4 200.7,971.4 208.4,988.5 215,971.4 219.95,971.4 211.1,995.8 205.7,995.8"/>
<rect x="222.0" y="978" width="4.7" height="17.8"/><circle cx="224.4" cy="973.4" r="3"/>
<path d="M245.8 986.85 A7.1 7.1 0 1 0 244.5 990.9" fill="none" stroke="#131313" stroke-width="4.6"/><rect x="233.5" y="984.7" width="14.3" height="3.6"/>
<polygon points="248.15,978 253.1,978 256,989.3 258.9,978 264,978 267.6,989.3 270.4,978 275.3,978 270.2,995.8 265.1,995.8 261.45,985 258.35,995.8 253.5,995.8"/>
</g>
</svg>
</body></html>
